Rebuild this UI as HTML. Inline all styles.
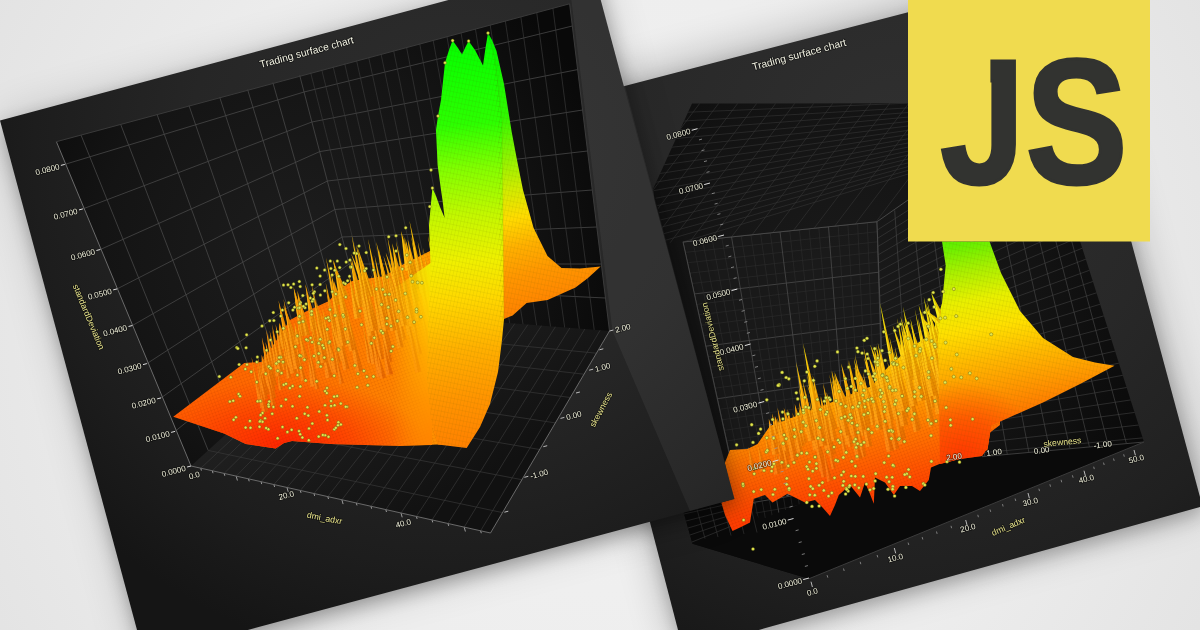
<!DOCTYPE html>
<html><head><meta charset="utf-8"><title>Trading surface chart</title>
<style>html,body{margin:0;padding:0;background:#ebebeb;overflow:hidden}svg{display:block}
.lbl text{paint-order:stroke;stroke:#000;stroke-opacity:.45;stroke-width:1.6px;stroke-linejoin:round}</style></head>
<body><svg width="1200" height="630" viewBox="0 0 1200 630" font-family="'Liberation Sans', sans-serif"><defs>
<pattern id="mesh" width="3.2" height="3.2" patternUnits="userSpaceOnUse" patternTransform="rotate(-20)">
 <path d="M0,0H3.2M0,0V3.2" stroke="#7a1800" stroke-width="0.5" stroke-opacity="0.28" fill="none"/>
</pattern>
<pattern id="mesh2" width="3.4" height="5" patternUnits="userSpaceOnUse" patternTransform="rotate(12)">
 <path d="M0,0H3.4M0,0V5" stroke="#4a4000" stroke-width="0.5" stroke-opacity="0.25" fill="none"/>
</pattern>

<radialGradient id="lwall" gradientUnits="userSpaceOnUse" cx="300" cy="250" r="330">
 <stop offset="0" stop-color="#1d1d1d"/><stop offset="0.6" stop-color="#141414"/><stop offset="1" stop-color="#090909"/>
</radialGradient>
<linearGradient id="lfloor" gradientUnits="userSpaceOnUse" x1="300" y1="330" x2="420" y2="520">
 <stop offset="0" stop-color="#242424"/><stop offset="1" stop-color="#111111"/>
</linearGradient>

<linearGradient id="gL" gradientUnits="userSpaceOnUse" x1="455" y1="33" x2="480" y2="448">
 <stop offset="0" stop-color="#00ff00"/><stop offset="0.22" stop-color="#2cff00"/>
 <stop offset="0.33" stop-color="#84ff00"/><stop offset="0.44" stop-color="#c4f800"/>
 <stop offset="0.55" stop-color="#f0f000"/><stop offset="0.64" stop-color="#ffd800"/>
 <stop offset="0.76" stop-color="#ffb000"/><stop offset="0.88" stop-color="#ff9400"/>
 <stop offset="1" stop-color="#ff8000"/>
</linearGradient>
<linearGradient id="gLr" gradientUnits="userSpaceOnUse" x1="500" y1="33" x2="560" y2="300">
 <stop offset="0" stop-color="#00f800"/><stop offset="0.30" stop-color="#30f800"/>
 <stop offset="0.44" stop-color="#88f400"/><stop offset="0.565" stop-color="#d0ec00"/>
 <stop offset="0.67" stop-color="#ffdc00"/><stop offset="0.775" stop-color="#ffb000"/>
 <stop offset="0.88" stop-color="#ff9600"/><stop offset="1" stop-color="#ff8400"/>
</linearGradient>
<linearGradient id="gLo" gradientUnits="userSpaceOnUse" x1="173" y1="420" x2="445" y2="360">
 <stop offset="0" stop-color="#ff6200"/><stop offset="0.45" stop-color="#ff6c00"/><stop offset="0.8" stop-color="#ff8400"/><stop offset="1" stop-color="#ff9a00"/>
</linearGradient>
<radialGradient id="gLred" gradientUnits="userSpaceOnUse" cx="285" cy="446" r="95" gradientTransform="translate(285 446) scale(1.5 0.7) translate(-285 -446)">
 <stop offset="0" stop-color="#ff2000" stop-opacity="0.95"/><stop offset="0.5" stop-color="#ff2c00" stop-opacity="0.6"/><stop offset="1" stop-color="#ff3000" stop-opacity="0"/>
</radialGradient>
<linearGradient id="mLg" gradientUnits="userSpaceOnUse" x1="392" y1="0" x2="432" y2="0">
 <stop offset="0" stop-color="#000"/><stop offset="1" stop-color="#fff"/>
</linearGradient>
<mask id="mL" maskUnits="userSpaceOnUse" x="380" y="200" width="80" height="260"><rect x="380" y="200" width="80" height="260" fill="url(#mLg)"/></mask>
<linearGradient id="gLh" gradientUnits="userSpaceOnUse" x1="340" y1="200" x2="375" y2="450">
 <stop offset="0" stop-color="#ffe800"/><stop offset="0.15" stop-color="#ffd000"/><stop offset="0.35" stop-color="#ffb000"/>
 <stop offset="0.58" stop-color="#ff9000"/><stop offset="0.8" stop-color="#ff7000"/><stop offset="1" stop-color="#ff5000"/>
</linearGradient>
<linearGradient id="gS1" gradientUnits="objectBoundingBox" x1="0" y1="0" x2="0" y2="1">
 <stop offset="0" stop-color="#ffc820"/><stop offset="0.5" stop-color="#ffa000"/><stop offset="1" stop-color="#ff7800"/>
</linearGradient>
<linearGradient id="gS2" gradientUnits="objectBoundingBox" x1="0" y1="0" x2="0" y2="1">
 <stop offset="0" stop-color="#ffae10"/><stop offset="0.5" stop-color="#ff8600"/><stop offset="1" stop-color="#ff5c00"/>
</linearGradient>

<radialGradient id="rwall" gradientUnits="userSpaceOnUse" cx="840" cy="300" r="330">
 <stop offset="0" stop-color="#1b1b1b"/><stop offset="0.6" stop-color="#131313"/><stop offset="1" stop-color="#0a0a0a"/>
</radialGradient>
<clipPath id="cTop"><polygon points="692.0,103.5 1050.0,103.0 1050.0,150.0 908.0,200.0 877.0,221.7 683.0,242.0 666.0,243.0 653.3,188.4"/></clipPath>
<clipPath id="cBack"><polygon points="683.0,242.0 877.0,221.7 886.0,470.0 760.0,520.0 735.0,480.0"/></clipPath>
<clipPath id="cRW"><polygon points="877.0,221.7 908.0,200.0 1050.0,110.0 1080.0,241.0 1144.0,442.0 982.0,456.7 886.0,470.0"/></clipPath>

<radialGradient id="gRred" gradientUnits="userSpaceOnUse" cx="962" cy="455" r="75">
 <stop offset="0" stop-color="#ff2c00" stop-opacity="0.7"/><stop offset="0.5" stop-color="#ff3400" stop-opacity="0.45"/><stop offset="1" stop-color="#ff4000" stop-opacity="0"/>
</radialGradient>
<linearGradient id="gRh" gradientUnits="userSpaceOnUse" x1="960" y1="242" x2="1009" y2="532">
 <stop offset="0" stop-color="#90f800"/><stop offset="0.1" stop-color="#d0f400"/>
 <stop offset="0.2" stop-color="#f8f000"/><stop offset="0.32" stop-color="#ffd800"/>
 <stop offset="0.45" stop-color="#ffb000"/><stop offset="0.58" stop-color="#ff9000"/>
 <stop offset="0.72" stop-color="#ff6c00"/><stop offset="0.86" stop-color="#ff4c00"/>
 <stop offset="1" stop-color="#ff3400"/>
</linearGradient>
<linearGradient id="gR" gradientUnits="userSpaceOnUse" x1="960" y1="242" x2="1009" y2="532">
 <stop offset="0" stop-color="#60f000"/><stop offset="0.097" stop-color="#a8f000"/>
 <stop offset="0.2" stop-color="#e8f000"/><stop offset="0.30" stop-color="#ffe000"/>
 <stop offset="0.41" stop-color="#ffb800"/><stop offset="0.52" stop-color="#ff9400"/>
 <stop offset="0.61" stop-color="#ff7600"/><stop offset="0.71" stop-color="#ff5a00"/>
 <stop offset="0.81" stop-color="#ff4000"/><stop offset="0.91" stop-color="#ff3000"/>
 <stop offset="1" stop-color="#f62800"/>
</linearGradient>

<radialGradient id="bg" gradientUnits="userSpaceOnUse" cx="600" cy="330" r="720">
 <stop offset="0" stop-color="#f2f2f2"/><stop offset="0.6" stop-color="#ededed"/><stop offset="1" stop-color="#e2e2e2"/>
</radialGradient>
<radialGradient id="lp" gradientUnits="userSpaceOnUse" cx="450" cy="150" r="520">
 <stop offset="0" stop-color="#2e2e2e"/><stop offset="0.5" stop-color="#262626"/><stop offset="0.8" stop-color="#1d1d1d"/><stop offset="1" stop-color="#151515"/>
</radialGradient>
<radialGradient id="rp" gradientUnits="userSpaceOnUse" cx="900" cy="150" r="540">
 <stop offset="0" stop-color="#303030"/><stop offset="0.5" stop-color="#282828"/><stop offset="0.8" stop-color="#202020"/><stop offset="1" stop-color="#181818"/>
</radialGradient>
<filter id="sh" x="-20%" y="-20%" width="140%" height="140%"><feGaussianBlur stdDeviation="9"/></filter>
<filter id="shw" x="-20%" y="-20%" width="140%" height="140%"><feGaussianBlur stdDeviation="22"/></filter>
</defs>
<rect width="1200" height="630" fill="url(#bg)"/>
<polygon points="542.0,103.5 1059.0,-31.0 1202.5,502.3 683.5,647.0" fill="#000" opacity="0.28" filter="url(#shw)"/>
<polygon points="544.0,113.5 1061.0,-21.0 1204.5,512.3 685.5,657.0" fill="#000" opacity="0.22" filter="url(#sh)"/>
<polygon points="542.0,107.5 1059.0,-27.0 1202.5,506.3 683.5,651.0" fill="url(#rp)" />
<g class="lbl">
<polygon points="692.0,103.5 1050.0,103.0 1080.0,241.0 1144.0,442.0 808.8,578.8 692.5,543.8 680.0,500.0 653.3,188.4" fill="url(#rwall)" />
<polygon points="683.8,512.5 760.0,478.0 982.0,456.7 1144.0,442.0 808.8,578.8 692.5,543.8" fill="#0a0a0a" />
<polygon points="683.0,242.0 877.0,221.7 886.0,470.0 760.0,500.0 735.0,480.0" fill="#1a1a1a" opacity="0.8"/>
<g clip-path="url(#cTop)" stroke="#363636" stroke-width="0.6" fill="none">
<line x1="688.0" y1="112.2" x2="1180.0" y2="92.0" />
<line x1="684.0" y1="121.0" x2="1180.0" y2="92.0" />
<line x1="680.0" y1="129.8" x2="1180.0" y2="92.0" />
<line x1="676.0" y1="138.5" x2="1180.0" y2="92.0" />
<line x1="672.0" y1="147.2" x2="1180.0" y2="92.0" />
<line x1="668.0" y1="156.0" x2="1180.0" y2="92.0" />
<line x1="664.0" y1="164.8" x2="1180.0" y2="92.0" />
<line x1="660.0" y1="173.5" x2="1180.0" y2="92.0" />
<line x1="656.0" y1="182.2" x2="1180.0" y2="92.0" />
<line x1="652.0" y1="191.0" x2="1180.0" y2="92.0" />
<line x1="648.0" y1="199.8" x2="1180.0" y2="92.0" />
<line x1="644.0" y1="208.5" x2="1180.0" y2="92.0" />
<line x1="640.0" y1="217.2" x2="1180.0" y2="92.0" />
<line x1="636.0" y1="226.0" x2="1180.0" y2="92.0" />
<line x1="632.0" y1="234.8" x2="1180.0" y2="92.0" />
<line x1="628.0" y1="243.5" x2="1180.0" y2="92.0" />
<line x1="624.0" y1="252.2" x2="1180.0" y2="92.0" />
<line x1="620.0" y1="261.0" x2="1180.0" y2="92.0" />
<line x1="700.0" y1="103.0" x2="570.0" y2="274.6" />
<line x1="719.0" y1="103.0" x2="589.0" y2="274.6" />
<line x1="738.0" y1="103.0" x2="608.0" y2="274.6" />
<line x1="757.0" y1="103.0" x2="627.0" y2="274.6" />
<line x1="776.0" y1="103.0" x2="646.0" y2="274.6" />
<line x1="795.0" y1="103.0" x2="665.0" y2="274.6" />
<line x1="814.0" y1="103.0" x2="684.0" y2="274.6" />
<line x1="833.0" y1="103.0" x2="703.0" y2="274.6" />
<line x1="852.0" y1="103.0" x2="722.0" y2="274.6" />
<line x1="871.0" y1="103.0" x2="741.0" y2="274.6" />
<line x1="890.0" y1="103.0" x2="760.0" y2="274.6" />
<line x1="909.0" y1="103.0" x2="779.0" y2="274.6" />
<line x1="928.0" y1="103.0" x2="798.0" y2="274.6" />
<line x1="947.0" y1="103.0" x2="817.0" y2="274.6" />
<line x1="966.0" y1="103.0" x2="836.0" y2="274.6" />
<line x1="985.0" y1="103.0" x2="855.0" y2="274.6" />
<line x1="1004.0" y1="103.0" x2="874.0" y2="274.6" />
<line x1="1023.0" y1="103.0" x2="893.0" y2="274.6" />
<line x1="1042.0" y1="103.0" x2="912.0" y2="274.6" />
<line x1="1061.0" y1="103.0" x2="931.0" y2="274.6" />
<line x1="1080.0" y1="103.0" x2="950.0" y2="274.6" />
<line x1="1099.0" y1="103.0" x2="969.0" y2="274.6" />
<line x1="1118.0" y1="103.0" x2="988.0" y2="274.6" />
<line x1="1137.0" y1="103.0" x2="1007.0" y2="274.6" />
</g>
<g clip-path="url(#cBack)" fill="none">
<line x1="660.0" y1="244.4" x2="900.0" y2="219.2" stroke="#4a4a4a" stroke-width="0.8" />
<line x1="660.0" y1="255.1" x2="900.0" y2="229.3" stroke="#2e2e2e" stroke-width="0.6" />
<line x1="660.0" y1="265.8" x2="900.0" y2="239.3" stroke="#2e2e2e" stroke-width="0.6" />
<line x1="660.0" y1="276.5" x2="900.0" y2="249.4" stroke="#2e2e2e" stroke-width="0.6" />
<line x1="660.0" y1="287.2" x2="900.0" y2="259.6" stroke="#2e2e2e" stroke-width="0.6" />
<line x1="660.0" y1="298.0" x2="900.0" y2="269.7" stroke="#4a4a4a" stroke-width="0.8" />
<line x1="660.0" y1="308.8" x2="900.0" y2="279.9" stroke="#2e2e2e" stroke-width="0.6" />
<line x1="660.0" y1="319.6" x2="900.0" y2="290.1" stroke="#2e2e2e" stroke-width="0.6" />
<line x1="660.0" y1="330.5" x2="900.0" y2="300.3" stroke="#2e2e2e" stroke-width="0.6" />
<line x1="660.0" y1="341.3" x2="900.0" y2="310.5" stroke="#2e2e2e" stroke-width="0.6" />
<line x1="660.0" y1="352.2" x2="900.0" y2="320.8" stroke="#4a4a4a" stroke-width="0.8" />
<line x1="660.0" y1="363.1" x2="900.0" y2="331.1" stroke="#2e2e2e" stroke-width="0.6" />
<line x1="660.0" y1="374.1" x2="900.0" y2="341.4" stroke="#2e2e2e" stroke-width="0.6" />
<line x1="660.0" y1="385.0" x2="900.0" y2="351.7" stroke="#2e2e2e" stroke-width="0.6" />
<line x1="660.0" y1="396.0" x2="900.0" y2="362.0" stroke="#2e2e2e" stroke-width="0.6" />
<line x1="660.0" y1="407.0" x2="900.0" y2="372.4" stroke="#4a4a4a" stroke-width="0.8" />
<line x1="660.0" y1="418.1" x2="900.0" y2="382.8" stroke="#2e2e2e" stroke-width="0.6" />
<line x1="660.0" y1="429.1" x2="900.0" y2="393.2" stroke="#2e2e2e" stroke-width="0.6" />
<line x1="660.0" y1="440.2" x2="900.0" y2="403.7" stroke="#2e2e2e" stroke-width="0.6" />
<line x1="660.0" y1="451.3" x2="900.0" y2="414.1" stroke="#2e2e2e" stroke-width="0.6" />
<line x1="660.0" y1="462.4" x2="900.0" y2="424.6" stroke="#4a4a4a" stroke-width="0.8" />
<line x1="660.0" y1="473.6" x2="900.0" y2="435.1" stroke="#2e2e2e" stroke-width="0.6" />
<line x1="660.0" y1="484.8" x2="900.0" y2="445.6" stroke="#2e2e2e" stroke-width="0.6" />
<line x1="660.0" y1="496.0" x2="900.0" y2="456.2" stroke="#2e2e2e" stroke-width="0.6" />
<line x1="660.0" y1="507.2" x2="900.0" y2="466.8" stroke="#2e2e2e" stroke-width="0.6" />
<line x1="660.0" y1="518.4" x2="900.0" y2="477.4" stroke="#4a4a4a" stroke-width="0.8" />
<line x1="660.0" y1="529.7" x2="900.0" y2="488.0" stroke="#2e2e2e" stroke-width="0.6" />
<line x1="660.0" y1="541.0" x2="900.0" y2="498.6" stroke="#2e2e2e" stroke-width="0.6" />
<line x1="660.0" y1="552.3" x2="900.0" y2="509.3" stroke="#2e2e2e" stroke-width="0.6" />
<line x1="660.0" y1="563.7" x2="900.0" y2="520.0" stroke="#2e2e2e" stroke-width="0.6" />
<line x1="683.0" y1="242.0" x2="750.5" y2="549.2" stroke="#4a4a4a" stroke-width="0.8" />
<line x1="692.7" y1="241.0" x2="757.3" y2="548.5" stroke="#2e2e2e" stroke-width="0.6" />
<line x1="702.4" y1="240.0" x2="764.1" y2="547.8" stroke="#2e2e2e" stroke-width="0.6" />
<line x1="712.1" y1="239.0" x2="770.9" y2="547.1" stroke="#2e2e2e" stroke-width="0.6" />
<line x1="721.8" y1="237.9" x2="777.7" y2="546.4" stroke="#2e2e2e" stroke-width="0.6" />
<line x1="731.5" y1="236.9" x2="784.5" y2="545.6" stroke="#4a4a4a" stroke-width="0.8" />
<line x1="741.2" y1="235.9" x2="791.2" y2="544.9" stroke="#2e2e2e" stroke-width="0.6" />
<line x1="750.9" y1="234.9" x2="798.0" y2="544.2" stroke="#2e2e2e" stroke-width="0.6" />
<line x1="760.6" y1="233.9" x2="804.8" y2="543.5" stroke="#2e2e2e" stroke-width="0.6" />
<line x1="770.3" y1="232.9" x2="811.6" y2="542.8" stroke="#2e2e2e" stroke-width="0.6" />
<line x1="780.0" y1="231.8" x2="818.4" y2="542.1" stroke="#4a4a4a" stroke-width="0.8" />
<line x1="789.7" y1="230.8" x2="825.2" y2="541.4" stroke="#2e2e2e" stroke-width="0.6" />
<line x1="799.4" y1="229.8" x2="832.0" y2="540.7" stroke="#2e2e2e" stroke-width="0.6" />
<line x1="809.1" y1="228.8" x2="838.8" y2="540.0" stroke="#2e2e2e" stroke-width="0.6" />
<line x1="818.8" y1="227.8" x2="845.6" y2="539.3" stroke="#2e2e2e" stroke-width="0.6" />
<line x1="828.5" y1="226.8" x2="852.4" y2="538.5" stroke="#4a4a4a" stroke-width="0.8" />
<line x1="838.2" y1="225.8" x2="859.1" y2="537.8" stroke="#2e2e2e" stroke-width="0.6" />
<line x1="847.9" y1="224.7" x2="865.9" y2="537.1" stroke="#2e2e2e" stroke-width="0.6" />
<line x1="857.6" y1="223.7" x2="872.7" y2="536.4" stroke="#2e2e2e" stroke-width="0.6" />
<line x1="867.3" y1="222.7" x2="879.5" y2="535.7" stroke="#2e2e2e" stroke-width="0.6" />
<line x1="877.0" y1="221.7" x2="886.3" y2="535.0" stroke="#4a4a4a" stroke-width="0.8" />
</g>
<g clip-path="url(#cRW)" stroke="#3a3a3a" stroke-width="0.7" fill="none">
<line x1="877.3" y1="230.0" x2="1177.3" y2="38.1" />
<line x1="877.6" y1="238.3" x2="1177.6" y2="52.3" />
<line x1="877.9" y1="246.5" x2="1177.9" y2="66.6" />
<line x1="878.2" y1="254.8" x2="1178.2" y2="80.8" />
<line x1="878.5" y1="263.1" x2="1178.5" y2="95.0" />
<line x1="878.8" y1="271.4" x2="1178.8" y2="109.2" />
<line x1="879.1" y1="279.6" x2="1179.1" y2="123.4" />
<line x1="879.4" y1="287.9" x2="1179.4" y2="137.6" />
<line x1="879.7" y1="296.2" x2="1179.7" y2="151.8" />
<line x1="880.0" y1="304.5" x2="1180.0" y2="166.0" />
<line x1="880.3" y1="312.7" x2="1180.3" y2="180.2" />
<line x1="880.6" y1="321.0" x2="1180.6" y2="194.3" />
<line x1="880.9" y1="329.3" x2="1180.9" y2="208.5" />
<line x1="881.2" y1="337.6" x2="1181.2" y2="222.6" />
<line x1="881.5" y1="345.9" x2="1181.5" y2="236.8" />
<line x1="881.8" y1="354.1" x2="1181.8" y2="250.9" />
<line x1="882.1" y1="362.4" x2="1182.1" y2="265.0" />
<line x1="882.4" y1="370.7" x2="1182.4" y2="279.1" />
<line x1="882.7" y1="379.0" x2="1182.7" y2="293.3" />
<line x1="883.0" y1="387.2" x2="1183.0" y2="307.3" />
<line x1="883.3" y1="395.5" x2="1183.3" y2="321.4" />
<line x1="883.6" y1="403.8" x2="1183.6" y2="335.5" />
<line x1="883.9" y1="412.1" x2="1183.9" y2="349.6" />
<line x1="884.2" y1="420.3" x2="1184.2" y2="363.7" />
<line x1="884.5" y1="428.6" x2="1184.5" y2="377.7" />
<line x1="884.8" y1="436.9" x2="1184.8" y2="391.8" />
<line x1="885.1" y1="445.2" x2="1185.1" y2="405.8" />
<line x1="885.4" y1="453.4" x2="1185.4" y2="419.8" />
<line x1="885.7" y1="461.7" x2="1185.7" y2="433.9" />
<line x1="894.7" y1="210.3" x2="912.3" y2="467.1" stroke="#444" />
<line x1="911.6" y1="199.4" x2="937.6" y2="464.4" stroke="#444" />
<line x1="927.9" y1="188.8" x2="961.9" y2="461.8" stroke="#444" />
<line x1="943.5" y1="178.7" x2="985.2" y2="459.2" stroke="#444" />
<line x1="958.6" y1="169.0" x2="1007.7" y2="456.8" stroke="#444" />
<line x1="973.1" y1="159.6" x2="1029.3" y2="454.4" stroke="#444" />
<line x1="987.1" y1="150.6" x2="1050.2" y2="452.2" stroke="#444" />
<line x1="1000.6" y1="141.9" x2="1070.3" y2="450.0" stroke="#444" />
<line x1="1013.6" y1="133.5" x2="1089.7" y2="447.9" stroke="#444" />
<line x1="1026.1" y1="125.4" x2="1108.4" y2="445.9" stroke="#444" />
<line x1="1038.3" y1="117.6" x2="1126.5" y2="443.9" stroke="#444" />
</g>
<g stroke="#4c4c4c" stroke-width="0.9" fill="none">
<polyline points="683.0,242.0 877.0,221.7 908.0,200.0" />
<line x1="877.0" y1="221.7" x2="886.0" y2="470.0" />
<line x1="683.0" y1="242.0" x2="735.0" y2="480.0" />
</g>
<g stroke="#333" stroke-width="0.7" fill="none">
<line x1="684.0" y1="514.0" x2="760.0" y2="497.0" />
<line x1="686.0" y1="521.0" x2="756.0" y2="503.0" />
<line x1="688.0" y1="528.0" x2="752.0" y2="509.0" />
<line x1="690.0" y1="535.0" x2="748.0" y2="515.0" />
<line x1="692.0" y1="542.0" x2="744.0" y2="521.0" />
<line x1="697.0" y1="509.4" x2="705.0" y2="538.5" />
<line x1="710.0" y1="506.8" x2="718.0" y2="537.0" />
<line x1="723.0" y1="504.2" x2="731.0" y2="535.5" />
<line x1="736.0" y1="501.6" x2="744.0" y2="534.0" />
<line x1="749.0" y1="499.0" x2="757.0" y2="532.5" />
</g>
<g stroke="#3c3c3c" stroke-width="1" fill="none">
<line x1="808.8" y1="578.8" x2="1144.0" y2="442.0" />
<line x1="982.0" y1="456.7" x2="1144.0" y2="442.0" />
</g>
<polygon points="724.8,462.9 730.0,450.0 747.5,449.0 757.5,444.0 770.0,426.0 815.0,409.0 842.0,398.0 872.0,386.0 888.0,367.0 910.0,348.0 933.0,333.0 942.0,303.6 1000.0,303.0 1000.0,425.0 990.0,432.5 987.5,450.0 975.0,456.0 960.0,458.8 940.0,463.8 931.0,467.5 928.8,480.0 920.0,491.0 912.0,486.0 900.0,486.0 893.8,495.0 885.0,482.5 875.0,477.5 873.8,503.8 870.0,494.0 865.0,482.5 860.0,497.5 850.0,485.0 838.8,495.0 835.0,505.0 830.0,516.0 823.0,508.0 815.0,500.0 805.0,502.5 787.5,493.8 772.5,502.5 765.0,495.0 753.8,498.8 750.0,522.5 741.0,527.0 732.5,531.0 725.0,515.0 721.3,502.5 733.0,499.0" fill="url(#gR)" />
<polygon points="931.2,292.7 945.2,318.8 937.9,320.3" fill="url(#gRh)" />
<polygon points="931.2,292.7 941.6,319.5 937.9,320.3" fill="#fff" opacity="0.07"/>
<polygon points="931.2,292.7 945.2,318.8 941.6,319.5" fill="#902000" opacity="0.22"/>
<polygon points="924.4,309.2 943.2,322.3 935.6,323.8" fill="url(#gRh)" />
<polygon points="924.4,309.2 939.4,323.0 935.6,323.8" fill="#fff" opacity="0.07"/>
<polygon points="924.4,309.2 943.2,322.3 939.4,323.0" fill="#902000" opacity="0.22"/>
<polygon points="920.3,316.4 939.5,333.0 932.7,334.5" fill="url(#gRh)" />
<polygon points="920.3,316.4 936.1,333.7 932.7,334.5" fill="#fff" opacity="0.07"/>
<polygon points="920.3,316.4 939.5,333.0 936.1,333.7" fill="#902000" opacity="0.22"/>
<polygon points="918.6,305.1 933.8,346.4 926.9,347.9" fill="url(#gRh)" />
<polygon points="918.6,305.1 930.3,347.1 926.9,347.9" fill="#fff" opacity="0.07"/>
<polygon points="918.6,305.1 933.8,346.4 930.3,347.1" fill="#902000" opacity="0.22"/>
<polygon points="933.8,314.1 943.6,352.1 939.3,353.6" fill="url(#gRh)" />
<polygon points="933.8,314.1 941.4,352.8 939.3,353.6" fill="#fff" opacity="0.07"/>
<polygon points="933.8,314.1 943.6,352.1 941.4,352.8" fill="#902000" opacity="0.22"/>
<polygon points="926.1,303.6 943.9,352.3 937.6,353.8" fill="url(#gRh)" />
<polygon points="926.1,303.6 940.8,353.0 937.6,353.8" fill="#fff" opacity="0.07"/>
<polygon points="926.1,303.6 943.9,352.3 940.8,353.0" fill="#902000" opacity="0.22"/>
<polygon points="903.3,320.5 920.4,359.9 913.7,361.4" fill="url(#gRh)" />
<polygon points="903.3,320.5 917.1,360.6 913.7,361.4" fill="#fff" opacity="0.07"/>
<polygon points="903.3,320.5 920.4,359.9 917.1,360.6" fill="#902000" opacity="0.22"/>
<polygon points="909.3,330.3 918.8,359.9 911.7,361.4" fill="url(#gRh)" />
<polygon points="909.3,330.3 915.3,360.6 911.7,361.4" fill="#fff" opacity="0.07"/>
<polygon points="909.3,330.3 918.8,359.9 915.3,360.6" fill="#902000" opacity="0.22"/>
<polygon points="909.9,322.2 926.0,365.7 921.7,367.2" fill="url(#gRh)" />
<polygon points="909.9,322.2 923.8,366.4 921.7,367.2" fill="#fff" opacity="0.07"/>
<polygon points="909.9,322.2 926.0,365.7 923.8,366.4" fill="#902000" opacity="0.22"/>
<polygon points="922.0,311.4 939.1,367.1 933.5,368.6" fill="url(#gRh)" />
<polygon points="922.0,311.4 936.3,367.8 933.5,368.6" fill="#fff" opacity="0.07"/>
<polygon points="922.0,311.4 939.1,367.1 936.3,367.8" fill="#902000" opacity="0.22"/>
<polygon points="910.4,318.3 923.2,369.0 917.9,370.5" fill="url(#gRh)" />
<polygon points="910.4,318.3 920.5,369.7 917.9,370.5" fill="#fff" opacity="0.07"/>
<polygon points="910.4,318.3 923.2,369.0 920.5,369.7" fill="#902000" opacity="0.22"/>
<polygon points="906.5,331.8 916.1,369.5 911.9,371.0" fill="url(#gRh)" />
<polygon points="906.5,331.8 914.0,370.2 911.9,371.0" fill="#fff" opacity="0.07"/>
<polygon points="906.5,331.8 916.1,369.5 914.0,370.2" fill="#902000" opacity="0.22"/>
<polygon points="892.7,325.4 911.2,370.3 904.5,371.8" fill="url(#gRh)" />
<polygon points="892.7,325.4 907.8,371.0 904.5,371.8" fill="#fff" opacity="0.07"/>
<polygon points="892.7,325.4 911.2,370.3 907.8,371.0" fill="#902000" opacity="0.22"/>
<polygon points="901.6,330.8 918.4,371.4 913.9,372.9" fill="url(#gRh)" />
<polygon points="901.6,330.8 916.2,372.1 913.9,372.9" fill="#fff" opacity="0.07"/>
<polygon points="901.6,330.8 918.4,371.4 916.2,372.1" fill="#902000" opacity="0.22"/>
<polygon points="902.6,326.3 921.5,373.6 917.4,375.1" fill="url(#gRh)" />
<polygon points="902.6,326.3 919.5,374.3 917.4,375.1" fill="#fff" opacity="0.07"/>
<polygon points="902.6,326.3 921.5,373.6 919.5,374.3" fill="#902000" opacity="0.22"/>
<polygon points="927.0,300.3 945.5,374.2 941.2,375.7" fill="url(#gRh)" />
<polygon points="927.0,300.3 943.3,374.9 941.2,375.7" fill="#fff" opacity="0.07"/>
<polygon points="927.0,300.3 945.5,374.2 943.3,374.9" fill="#902000" opacity="0.22"/>
<polygon points="900.3,316.1 919.8,374.9 913.6,376.4" fill="url(#gRh)" />
<polygon points="900.3,316.1 916.7,375.6 913.6,376.4" fill="#fff" opacity="0.07"/>
<polygon points="900.3,316.1 919.8,374.9 916.7,375.6" fill="#902000" opacity="0.22"/>
<polygon points="905.2,315.5 921.0,376.3 913.7,377.8" fill="url(#gRh)" />
<polygon points="905.2,315.5 917.4,377.0 913.7,377.8" fill="#fff" opacity="0.07"/>
<polygon points="905.2,315.5 921.0,376.3 917.4,377.0" fill="#902000" opacity="0.22"/>
<polygon points="902.7,327.4 916.5,377.1 908.9,378.6" fill="url(#gRh)" />
<polygon points="902.7,327.4 912.7,377.8 908.9,378.6" fill="#fff" opacity="0.07"/>
<polygon points="902.7,327.4 916.5,377.1 912.7,377.8" fill="#902000" opacity="0.22"/>
<polygon points="900.2,338.8 911.7,377.4 904.1,378.9" fill="url(#gRh)" />
<polygon points="900.2,338.8 907.9,378.1 904.1,378.9" fill="#fff" opacity="0.07"/>
<polygon points="900.2,338.8 911.7,377.4 907.9,378.1" fill="#902000" opacity="0.22"/>
<polygon points="900.4,322.3 913.9,377.8 909.2,379.3" fill="url(#gRh)" />
<polygon points="900.4,322.3 911.5,378.5 909.2,379.3" fill="#fff" opacity="0.07"/>
<polygon points="900.4,322.3 913.9,377.8 911.5,378.5" fill="#902000" opacity="0.22"/>
<polygon points="902.5,333.5 914.0,379.5 909.4,381.0" fill="url(#gRh)" />
<polygon points="902.5,333.5 911.7,380.2 909.4,381.0" fill="#fff" opacity="0.07"/>
<polygon points="902.5,333.5 914.0,379.5 911.7,380.2" fill="#902000" opacity="0.22"/>
<polygon points="923.8,297.0 945.2,384.3 937.3,385.8" fill="url(#gRh)" />
<polygon points="923.8,297.0 941.2,385.0 937.3,385.8" fill="#fff" opacity="0.07"/>
<polygon points="923.8,297.0 945.2,384.3 941.2,385.0" fill="#902000" opacity="0.22"/>
<polygon points="924.7,321.8 940.8,386.2 934.4,387.7" fill="url(#gRh)" />
<polygon points="924.7,321.8 937.6,386.9 934.4,387.7" fill="#fff" opacity="0.07"/>
<polygon points="924.7,321.8 940.8,386.2 937.6,386.9" fill="#902000" opacity="0.22"/>
<polygon points="870.3,344.7 889.6,387.7 882.3,389.2" fill="url(#gRh)" />
<polygon points="870.3,344.7 886.0,388.4 882.3,389.2" fill="#fff" opacity="0.07"/>
<polygon points="870.3,344.7 889.6,387.7 886.0,388.4" fill="#902000" opacity="0.22"/>
<polygon points="879.9,366.5 888.8,392.0 881.2,393.5" fill="url(#gRh)" />
<polygon points="879.9,366.5 885.0,392.7 881.2,393.5" fill="#fff" opacity="0.07"/>
<polygon points="879.9,366.5 888.8,392.0 885.0,392.7" fill="#902000" opacity="0.22"/>
<polygon points="867.7,353.5 884.4,392.2 878.1,393.7" fill="url(#gRh)" />
<polygon points="867.7,353.5 881.3,392.9 878.1,393.7" fill="#fff" opacity="0.07"/>
<polygon points="867.7,353.5 884.4,392.2 881.3,392.9" fill="#902000" opacity="0.22"/>
<polygon points="911.3,353.5 922.8,392.2 915.2,393.7" fill="url(#gRh)" />
<polygon points="911.3,353.5 919.0,392.9 915.2,393.7" fill="#fff" opacity="0.07"/>
<polygon points="911.3,353.5 922.8,392.2 919.0,392.9" fill="#902000" opacity="0.22"/>
<polygon points="914.8,308.9 933.9,392.5 929.2,394.0" fill="url(#gRh)" />
<polygon points="914.8,308.9 931.5,393.2 929.2,394.0" fill="#fff" opacity="0.07"/>
<polygon points="914.8,308.9 933.9,392.5 931.5,393.2" fill="#902000" opacity="0.22"/>
<polygon points="864.0,357.5 880.2,396.8 873.3,398.3" fill="url(#gRh)" />
<polygon points="864.0,357.5 876.8,397.5 873.3,398.3" fill="#fff" opacity="0.07"/>
<polygon points="864.0,357.5 880.2,396.8 876.8,397.5" fill="#902000" opacity="0.22"/>
<polygon points="873.9,358.5 884.7,398.2 879.0,399.7" fill="url(#gRh)" />
<polygon points="873.9,358.5 881.8,398.9 879.0,399.7" fill="#fff" opacity="0.07"/>
<polygon points="873.9,358.5 884.7,398.2 881.8,398.9" fill="#902000" opacity="0.22"/>
<polygon points="879.9,372.1 888.5,400.3 882.6,401.8" fill="url(#gRh)" />
<polygon points="879.9,372.1 885.6,401.0 882.6,401.8" fill="#fff" opacity="0.07"/>
<polygon points="879.9,372.1 888.5,400.3 885.6,401.0" fill="#902000" opacity="0.22"/>
<polygon points="876.1,344.9 890.8,400.7 883.8,402.2" fill="url(#gRh)" />
<polygon points="876.1,344.9 887.3,401.4 883.8,402.2" fill="#fff" opacity="0.07"/>
<polygon points="876.1,344.9 890.8,400.7 887.3,401.4" fill="#902000" opacity="0.22"/>
<polygon points="855.3,363.6 874.2,402.0 867.1,403.5" fill="url(#gRh)" />
<polygon points="855.3,363.6 870.7,402.7 867.1,403.5" fill="#fff" opacity="0.07"/>
<polygon points="855.3,363.6 874.2,402.0 870.7,402.7" fill="#902000" opacity="0.22"/>
<polygon points="936.6,371.1 945.6,403.4 940.6,404.9" fill="url(#gRh)" />
<polygon points="936.6,371.1 943.1,404.1 940.6,404.9" fill="#fff" opacity="0.07"/>
<polygon points="936.6,371.1 945.6,403.4 943.1,404.1" fill="#902000" opacity="0.22"/>
<polygon points="929.9,331.5 946.7,403.9 942.1,405.4" fill="url(#gRh)" />
<polygon points="929.9,331.5 944.4,404.6 942.1,405.4" fill="#fff" opacity="0.07"/>
<polygon points="929.9,331.5 946.7,403.9 944.4,404.6" fill="#902000" opacity="0.22"/>
<polygon points="873.7,345.9 890.4,404.2 882.9,405.7" fill="url(#gRh)" />
<polygon points="873.7,345.9 886.6,404.9 882.9,405.7" fill="#fff" opacity="0.07"/>
<polygon points="873.7,345.9 890.4,404.2 886.6,404.9" fill="#902000" opacity="0.22"/>
<polygon points="931.9,368.3 943.0,405.3 935.7,406.8" fill="url(#gRh)" />
<polygon points="931.9,368.3 939.3,406.0 935.7,406.8" fill="#fff" opacity="0.07"/>
<polygon points="931.9,368.3 943.0,405.3 939.3,406.0" fill="#902000" opacity="0.22"/>
<polygon points="877.8,342.7 894.1,405.8 886.8,407.3" fill="url(#gRh)" />
<polygon points="877.8,342.7 890.4,406.5 886.8,407.3" fill="#fff" opacity="0.07"/>
<polygon points="877.8,342.7 894.1,405.8 890.4,406.5" fill="#902000" opacity="0.22"/>
<polygon points="934.3,369.2 943.8,406.6 939.7,408.1" fill="url(#gRh)" />
<polygon points="934.3,369.2 941.8,407.3 939.7,408.1" fill="#fff" opacity="0.07"/>
<polygon points="934.3,369.2 943.8,406.6 941.8,407.3" fill="#902000" opacity="0.22"/>
<polygon points="848.1,360.1 859.7,406.9 855.2,408.4" fill="url(#gRh)" />
<polygon points="848.1,360.1 857.4,407.6 855.2,408.4" fill="#fff" opacity="0.07"/>
<polygon points="848.1,360.1 859.7,406.9 857.4,407.6" fill="#902000" opacity="0.22"/>
<polygon points="894.1,351.3 909.0,407.8 901.7,409.3" fill="url(#gRh)" />
<polygon points="894.1,351.3 905.4,408.5 901.7,409.3" fill="#fff" opacity="0.07"/>
<polygon points="894.1,351.3 909.0,407.8 905.4,408.5" fill="#902000" opacity="0.22"/>
<polygon points="919.5,341.3 936.5,407.9 929.1,409.4" fill="url(#gRh)" />
<polygon points="919.5,341.3 932.8,408.6 929.1,409.4" fill="#fff" opacity="0.07"/>
<polygon points="919.5,341.3 936.5,407.9 932.8,408.6" fill="#902000" opacity="0.22"/>
<polygon points="894.8,346.4 910.6,409.5 904.2,411.0" fill="url(#gRh)" />
<polygon points="894.8,346.4 907.4,410.2 904.2,411.0" fill="#fff" opacity="0.07"/>
<polygon points="894.8,346.4 910.6,409.5 907.4,410.2" fill="#902000" opacity="0.22"/>
<polygon points="891.6,352.4 906.7,410.0 899.5,411.5" fill="url(#gRh)" />
<polygon points="891.6,352.4 903.1,410.7 899.5,411.5" fill="#fff" opacity="0.07"/>
<polygon points="891.6,352.4 906.7,410.0 903.1,410.7" fill="#902000" opacity="0.22"/>
<polygon points="854.4,366.0 865.4,410.3 861.1,411.8" fill="url(#gRh)" />
<polygon points="854.4,366.0 863.2,411.0 861.1,411.8" fill="#fff" opacity="0.07"/>
<polygon points="854.4,366.0 865.4,410.3 863.2,411.0" fill="#902000" opacity="0.22"/>
<polygon points="841.1,363.2 855.5,410.3 849.0,411.8" fill="url(#gRh)" />
<polygon points="841.1,363.2 852.2,411.0 849.0,411.8" fill="#fff" opacity="0.07"/>
<polygon points="841.1,363.2 855.5,410.3 852.2,411.0" fill="#902000" opacity="0.22"/>
<polygon points="853.9,358.1 867.4,410.8 861.5,412.3" fill="url(#gRh)" />
<polygon points="853.9,358.1 864.4,411.5 861.5,412.3" fill="#fff" opacity="0.07"/>
<polygon points="853.9,358.1 867.4,410.8 864.4,411.5" fill="#902000" opacity="0.22"/>
<polygon points="879.9,347.9 895.6,411.0 889.5,412.5" fill="url(#gRh)" />
<polygon points="879.9,347.9 892.5,411.7 889.5,412.5" fill="#fff" opacity="0.07"/>
<polygon points="879.9,347.9 895.6,411.0 892.5,411.7" fill="#902000" opacity="0.22"/>
<polygon points="861.0,386.5 869.1,411.1 862.7,412.6" fill="url(#gRh)" />
<polygon points="861.0,386.5 865.9,411.8 862.7,412.6" fill="#fff" opacity="0.07"/>
<polygon points="861.0,386.5 869.1,411.1 865.9,411.8" fill="#902000" opacity="0.22"/>
<polygon points="860.1,383.5 869.3,411.7 862.2,413.2" fill="url(#gRh)" />
<polygon points="860.1,383.5 865.7,412.4 862.2,413.2" fill="#fff" opacity="0.07"/>
<polygon points="860.1,383.5 869.3,411.7 865.7,412.4" fill="#902000" opacity="0.22"/>
<polygon points="926.5,347.7 943.4,413.1 935.7,414.6" fill="url(#gRh)" />
<polygon points="926.5,347.7 939.5,413.8 935.7,414.6" fill="#fff" opacity="0.07"/>
<polygon points="926.5,347.7 943.4,413.1 939.5,413.8" fill="#902000" opacity="0.22"/>
<polygon points="836.8,379.0 853.4,413.5 848.5,415.0" fill="url(#gRh)" />
<polygon points="836.8,379.0 850.9,414.2 848.5,415.0" fill="#fff" opacity="0.07"/>
<polygon points="836.8,379.0 853.4,413.5 850.9,414.2" fill="#902000" opacity="0.22"/>
<polygon points="834.4,371.8 851.2,413.6 843.4,415.1" fill="url(#gRh)" />
<polygon points="834.4,371.8 847.3,414.3 843.4,415.1" fill="#fff" opacity="0.07"/>
<polygon points="834.4,371.8 851.2,413.6 847.3,414.3" fill="#902000" opacity="0.22"/>
<polygon points="890.5,358.9 903.9,413.9 899.1,415.4" fill="url(#gRh)" />
<polygon points="890.5,358.9 901.5,414.6 899.1,415.4" fill="#fff" opacity="0.07"/>
<polygon points="890.5,358.9 903.9,413.9 901.5,414.6" fill="#902000" opacity="0.22"/>
<polygon points="863.7,347.7 879.2,414.5 874.8,416.0" fill="url(#gRh)" />
<polygon points="863.7,347.7 877.0,415.2 874.8,416.0" fill="#fff" opacity="0.07"/>
<polygon points="863.7,347.7 879.2,414.5 877.0,415.2" fill="#902000" opacity="0.22"/>
<polygon points="867.2,386.6 875.5,416.9 871.1,418.4" fill="url(#gRh)" />
<polygon points="867.2,386.6 873.3,417.6 871.1,418.4" fill="#fff" opacity="0.07"/>
<polygon points="867.2,386.6 875.5,416.9 873.3,417.6" fill="#902000" opacity="0.22"/>
<polygon points="894.3,357.5 908.9,417.4 903.7,418.9" fill="url(#gRh)" />
<polygon points="894.3,357.5 906.3,418.1 903.7,418.9" fill="#fff" opacity="0.07"/>
<polygon points="894.3,357.5 908.9,417.4 906.3,418.1" fill="#902000" opacity="0.22"/>
<polygon points="885.9,368.5 899.1,418.1 892.5,419.6" fill="url(#gRh)" />
<polygon points="885.9,368.5 895.8,418.8 892.5,419.6" fill="#fff" opacity="0.07"/>
<polygon points="885.9,368.5 899.1,418.1 895.8,418.8" fill="#902000" opacity="0.22"/>
<polygon points="812.6,375.0 824.1,419.4 818.7,420.9" fill="url(#gRh)" />
<polygon points="812.6,375.0 821.4,420.1 818.7,420.9" fill="#fff" opacity="0.07"/>
<polygon points="812.6,375.0 824.1,419.4 821.4,420.1" fill="#902000" opacity="0.22"/>
<polygon points="807.1,384.4 822.5,419.7 817.8,421.2" fill="url(#gRh)" />
<polygon points="807.1,384.4 820.2,420.4 817.8,421.2" fill="#fff" opacity="0.07"/>
<polygon points="807.1,384.4 822.5,419.7 820.2,420.4" fill="#902000" opacity="0.22"/>
<polygon points="864.1,349.0 881.2,419.8 875.4,421.3" fill="url(#gRh)" />
<polygon points="864.1,349.0 878.3,420.5 875.4,421.3" fill="#fff" opacity="0.07"/>
<polygon points="864.1,349.0 881.2,419.8 878.3,420.5" fill="#902000" opacity="0.22"/>
<polygon points="834.2,382.7 845.1,420.4 838.4,421.9" fill="url(#gRh)" />
<polygon points="834.2,382.7 841.8,421.1 838.4,421.9" fill="#fff" opacity="0.07"/>
<polygon points="834.2,382.7 845.1,420.4 841.8,421.1" fill="#902000" opacity="0.22"/>
<polygon points="824.1,400.9 831.0,422.2 825.7,423.7" fill="url(#gRh)" />
<polygon points="824.1,400.9 828.3,422.9 825.7,423.7" fill="#fff" opacity="0.07"/>
<polygon points="824.1,400.9 831.0,422.2 828.3,422.9" fill="#902000" opacity="0.22"/>
<polygon points="916.5,341.9 934.8,422.4 930.5,423.9" fill="url(#gRh)" />
<polygon points="916.5,341.9 932.6,423.1 930.5,423.9" fill="#fff" opacity="0.07"/>
<polygon points="916.5,341.9 934.8,422.4 932.6,423.1" fill="#902000" opacity="0.22"/>
<polygon points="851.8,389.5 861.5,422.6 855.5,424.1" fill="url(#gRh)" />
<polygon points="851.8,389.5 858.5,423.3 855.5,424.1" fill="#fff" opacity="0.07"/>
<polygon points="851.8,389.5 861.5,422.6 858.5,423.3" fill="#902000" opacity="0.22"/>
<polygon points="806.9,372.9 819.3,422.9 814.4,424.4" fill="url(#gRh)" />
<polygon points="806.9,372.9 816.9,423.6 814.4,424.4" fill="#fff" opacity="0.07"/>
<polygon points="806.9,372.9 819.3,422.9 816.9,423.6" fill="#902000" opacity="0.22"/>
<polygon points="833.5,377.4 850.9,423.2 843.4,424.7" fill="url(#gRh)" />
<polygon points="833.5,377.4 847.2,423.9 843.4,424.7" fill="#fff" opacity="0.07"/>
<polygon points="833.5,377.4 850.9,423.2 847.2,423.9" fill="#902000" opacity="0.22"/>
<polygon points="887.3,360.6 902.4,423.4 897.3,424.9" fill="url(#gRh)" />
<polygon points="887.3,360.6 899.8,424.1 897.3,424.9" fill="#fff" opacity="0.07"/>
<polygon points="887.3,360.6 902.4,423.4 899.8,424.1" fill="#902000" opacity="0.22"/>
<polygon points="854.9,354.5 871.3,423.9 866.2,425.4" fill="url(#gRh)" />
<polygon points="854.9,354.5 868.8,424.6 866.2,425.4" fill="#fff" opacity="0.07"/>
<polygon points="854.9,354.5 871.3,423.9 868.8,424.6" fill="#902000" opacity="0.22"/>
<polygon points="863.0,372.1 875.6,424.1 871.1,425.6" fill="url(#gRh)" />
<polygon points="863.0,372.1 873.4,424.8 871.1,425.6" fill="#fff" opacity="0.07"/>
<polygon points="863.0,372.1 875.6,424.1 873.4,424.8" fill="#902000" opacity="0.22"/>
<polygon points="832.0,379.0 844.5,425.3 838.0,426.8" fill="url(#gRh)" />
<polygon points="832.0,379.0 841.2,426.0 838.0,426.8" fill="#fff" opacity="0.07"/>
<polygon points="832.0,379.0 844.5,425.3 841.2,426.0" fill="#902000" opacity="0.22"/>
<polygon points="829.3,374.3 841.6,425.4 837.5,426.9" fill="url(#gRh)" />
<polygon points="829.3,374.3 839.5,426.1 837.5,426.9" fill="#fff" opacity="0.07"/>
<polygon points="829.3,374.3 841.6,425.4 839.5,426.1" fill="#902000" opacity="0.22"/>
<polygon points="918.3,359.6 934.4,425.7 928.7,427.2" fill="url(#gRh)" />
<polygon points="918.3,359.6 931.6,426.4 928.7,427.2" fill="#fff" opacity="0.07"/>
<polygon points="918.3,359.6 934.4,425.7 931.6,426.4" fill="#902000" opacity="0.22"/>
<polygon points="807.3,401.9 815.8,425.8 808.4,427.3" fill="url(#gRh)" />
<polygon points="807.3,401.9 812.1,426.5 808.4,427.3" fill="#fff" opacity="0.07"/>
<polygon points="807.3,401.9 815.8,425.8 812.1,426.5" fill="#902000" opacity="0.22"/>
<polygon points="799.0,401.8 806.2,425.9 801.4,427.4" fill="url(#gRh)" />
<polygon points="799.0,401.8 803.8,426.6 801.4,427.4" fill="#fff" opacity="0.07"/>
<polygon points="799.0,401.8 806.2,425.9 803.8,426.6" fill="#902000" opacity="0.22"/>
<polygon points="798.7,407.3 804.9,427.7 800.7,429.2" fill="url(#gRh)" />
<polygon points="798.7,407.3 802.8,428.4 800.7,429.2" fill="#fff" opacity="0.07"/>
<polygon points="798.7,407.3 804.9,427.7 802.8,428.4" fill="#902000" opacity="0.22"/>
<polygon points="859.2,389.5 870.7,428.3 863.1,429.8" fill="url(#gRh)" />
<polygon points="859.2,389.5 866.9,429.0 863.1,429.8" fill="#fff" opacity="0.07"/>
<polygon points="859.2,389.5 870.7,428.3 866.9,429.0" fill="#902000" opacity="0.22"/>
<polygon points="826.5,392.0 837.4,428.5 830.2,430.0" fill="url(#gRh)" />
<polygon points="826.5,392.0 833.8,429.2 830.2,430.0" fill="#fff" opacity="0.07"/>
<polygon points="826.5,392.0 837.4,428.5 833.8,429.2" fill="#902000" opacity="0.22"/>
<polygon points="906.6,371.7 921.3,429.0 914.8,430.5" fill="url(#gRh)" />
<polygon points="906.6,371.7 918.1,429.7 914.8,430.5" fill="#fff" opacity="0.07"/>
<polygon points="906.6,371.7 921.3,429.0 918.1,429.7" fill="#902000" opacity="0.22"/>
<polygon points="852.1,379.6 865.7,429.2 858.4,430.7" fill="url(#gRh)" />
<polygon points="852.1,379.6 862.1,429.9 858.4,430.7" fill="#fff" opacity="0.07"/>
<polygon points="852.1,379.6 865.7,429.2 862.1,429.9" fill="#902000" opacity="0.22"/>
<polygon points="872.1,391.9 883.5,429.3 875.8,430.8" fill="url(#gRh)" />
<polygon points="872.1,391.9 879.6,430.0 875.8,430.8" fill="#fff" opacity="0.07"/>
<polygon points="872.1,391.9 883.5,429.3 879.6,430.0" fill="#902000" opacity="0.22"/>
<polygon points="785.7,414.6 791.0,429.7 786.5,431.2" fill="url(#gRh)" />
<polygon points="785.7,414.6 788.8,430.4 786.5,431.2" fill="#fff" opacity="0.07"/>
<polygon points="785.7,414.6 791.0,429.7 788.8,430.4" fill="#902000" opacity="0.22"/>
<polygon points="787.9,411.5 793.8,430.2 789.5,431.7" fill="url(#gRh)" />
<polygon points="787.9,411.5 791.7,430.9 789.5,431.7" fill="#fff" opacity="0.07"/>
<polygon points="787.9,411.5 793.8,430.2 791.7,430.9" fill="#902000" opacity="0.22"/>
<polygon points="901.9,356.9 919.6,430.7 913.7,432.2" fill="url(#gRh)" />
<polygon points="901.9,356.9 916.7,431.4 913.7,432.2" fill="#fff" opacity="0.07"/>
<polygon points="901.9,356.9 919.6,430.7 916.7,431.4" fill="#902000" opacity="0.22"/>
<polygon points="794.8,403.9 804.0,431.8 796.8,433.3" fill="url(#gRh)" />
<polygon points="794.8,403.9 800.4,432.5 796.8,433.3" fill="#fff" opacity="0.07"/>
<polygon points="794.8,403.9 804.0,431.8 800.4,432.5" fill="#902000" opacity="0.22"/>
<polygon points="774.9,416.0 782.1,432.5 774.2,434.0" fill="url(#gRh)" />
<polygon points="774.9,416.0 778.2,433.2 774.2,434.0" fill="#fff" opacity="0.07"/>
<polygon points="774.9,416.0 782.1,432.5 778.2,433.2" fill="#902000" opacity="0.22"/>
<polygon points="831.7,370.0 847.0,432.6 841.4,434.1" fill="url(#gRh)" />
<polygon points="831.7,370.0 844.2,433.3 841.4,434.1" fill="#fff" opacity="0.07"/>
<polygon points="831.7,370.0 847.0,432.6 844.2,433.3" fill="#902000" opacity="0.22"/>
<polygon points="798.8,386.3 810.7,432.8 805.5,434.3" fill="url(#gRh)" />
<polygon points="798.8,386.3 808.1,433.5 805.5,434.3" fill="#fff" opacity="0.07"/>
<polygon points="798.8,386.3 810.7,432.8 808.1,433.5" fill="#902000" opacity="0.22"/>
<polygon points="849.0,360.5 867.1,433.1 859.9,434.6" fill="url(#gRh)" />
<polygon points="849.0,360.5 863.5,433.8 859.9,434.6" fill="#fff" opacity="0.07"/>
<polygon points="849.0,360.5 867.1,433.1 863.5,433.8" fill="#902000" opacity="0.22"/>
<polygon points="772.1,413.3 778.2,433.7 774.2,435.2" fill="url(#gRh)" />
<polygon points="772.1,413.3 776.2,434.4 774.2,435.2" fill="#fff" opacity="0.07"/>
<polygon points="772.1,413.3 778.2,433.7 776.2,434.4" fill="#902000" opacity="0.22"/>
<polygon points="846.0,398.7 855.6,434.1 850.5,435.6" fill="url(#gRh)" />
<polygon points="846.0,398.7 853.0,434.8 850.5,435.6" fill="#fff" opacity="0.07"/>
<polygon points="846.0,398.7 855.6,434.1 853.0,434.8" fill="#902000" opacity="0.22"/>
<polygon points="831.5,370.7 847.2,434.1 841.1,435.6" fill="url(#gRh)" />
<polygon points="831.5,370.7 844.2,434.8 841.1,435.6" fill="#fff" opacity="0.07"/>
<polygon points="831.5,370.7 847.2,434.1 844.2,434.8" fill="#902000" opacity="0.22"/>
<polygon points="843.0,370.2 858.4,434.2 853.2,435.7" fill="url(#gRh)" />
<polygon points="843.0,370.2 855.8,434.9 853.2,435.7" fill="#fff" opacity="0.07"/>
<polygon points="843.0,370.2 858.4,434.2 855.8,434.9" fill="#902000" opacity="0.22"/>
<polygon points="853.8,406.2 861.7,434.9 857.4,436.4" fill="url(#gRh)" />
<polygon points="853.8,406.2 859.6,435.6 857.4,436.4" fill="#fff" opacity="0.07"/>
<polygon points="853.8,406.2 861.7,434.9 859.6,435.6" fill="#902000" opacity="0.22"/>
<polygon points="854.4,389.6 866.7,435.0 860.3,436.5" fill="url(#gRh)" />
<polygon points="854.4,389.6 863.5,435.7 860.3,436.5" fill="#fff" opacity="0.07"/>
<polygon points="854.4,389.6 866.7,435.0 863.5,435.7" fill="#902000" opacity="0.22"/>
<polygon points="855.2,372.0 870.9,435.9 865.1,437.4" fill="url(#gRh)" />
<polygon points="855.2,372.0 868.0,436.6 865.1,437.4" fill="#fff" opacity="0.07"/>
<polygon points="855.2,372.0 870.9,435.9 868.0,436.6" fill="#902000" opacity="0.22"/>
<polygon points="817.8,400.3 828.8,435.9 821.0,437.4" fill="url(#gRh)" />
<polygon points="817.8,400.3 824.9,436.6 821.0,437.4" fill="#fff" opacity="0.07"/>
<polygon points="817.8,400.3 828.8,435.9 824.9,436.6" fill="#902000" opacity="0.22"/>
<polygon points="768.8,418.8 775.3,437.0 769.6,438.5" fill="url(#gRh)" />
<polygon points="768.8,418.8 772.4,437.7 769.6,438.5" fill="#fff" opacity="0.07"/>
<polygon points="768.8,418.8 775.3,437.0 772.4,437.7" fill="#902000" opacity="0.22"/>
<polygon points="890.1,370.1 906.3,437.9 901.1,439.4" fill="url(#gRh)" />
<polygon points="890.1,370.1 903.7,438.6 901.1,439.4" fill="#fff" opacity="0.07"/>
<polygon points="890.1,370.1 906.3,437.9 903.7,438.6" fill="#902000" opacity="0.22"/>
<polygon points="780.5,421.7 787.6,438.5 780.2,440.0" fill="url(#gRh)" />
<polygon points="780.5,421.7 783.9,439.2 780.2,440.0" fill="#fff" opacity="0.07"/>
<polygon points="780.5,421.7 787.6,438.5 783.9,439.2" fill="#902000" opacity="0.22"/>
<polygon points="820.4,396.6 832.4,438.5 825.1,440.0" fill="url(#gRh)" />
<polygon points="820.4,396.6 828.7,439.2 825.1,440.0" fill="#fff" opacity="0.07"/>
<polygon points="820.4,396.6 832.4,438.5 828.7,439.2" fill="#902000" opacity="0.22"/>
<polygon points="787.5,408.9 796.6,439.4 790.5,440.9" fill="url(#gRh)" />
<polygon points="787.5,408.9 793.6,440.1 790.5,440.9" fill="#fff" opacity="0.07"/>
<polygon points="787.5,408.9 796.6,439.4 793.6,440.1" fill="#902000" opacity="0.22"/>
<polygon points="844.5,372.4 860.0,439.8 856.0,441.3" fill="url(#gRh)" />
<polygon points="844.5,372.4 858.0,440.5 856.0,441.3" fill="#fff" opacity="0.07"/>
<polygon points="844.5,372.4 860.0,439.8 858.0,440.5" fill="#902000" opacity="0.22"/>
<polygon points="886.4,403.0 897.0,440.4 890.8,441.9" fill="url(#gRh)" />
<polygon points="886.4,403.0 893.9,441.1 890.8,441.9" fill="#fff" opacity="0.07"/>
<polygon points="886.4,403.0 897.0,440.4 893.9,441.1" fill="#902000" opacity="0.22"/>
<polygon points="811.9,379.6 827.4,441.0 821.0,442.5" fill="url(#gRh)" />
<polygon points="811.9,379.6 824.2,441.7 821.0,442.5" fill="#fff" opacity="0.07"/>
<polygon points="811.9,379.6 827.4,441.0 824.2,441.7" fill="#902000" opacity="0.22"/>
<polygon points="801.2,424.9 807.4,442.0 801.8,443.5" fill="url(#gRh)" />
<polygon points="801.2,424.9 804.6,442.7 801.8,443.5" fill="#fff" opacity="0.07"/>
<polygon points="801.2,424.9 807.4,442.0 804.6,442.7" fill="#902000" opacity="0.22"/>
<polygon points="891.0,386.9 905.5,443.0 898.9,444.5" fill="url(#gRh)" />
<polygon points="891.0,386.9 902.2,443.7 898.9,444.5" fill="#fff" opacity="0.07"/>
<polygon points="891.0,386.9 905.5,443.0 902.2,443.7" fill="#902000" opacity="0.22"/>
<polygon points="783.8,407.7 794.7,443.6 787.3,445.1" fill="url(#gRh)" />
<polygon points="783.8,407.7 791.0,444.3 787.3,445.1" fill="#fff" opacity="0.07"/>
<polygon points="783.8,407.7 794.7,443.6 791.0,444.3" fill="#902000" opacity="0.22"/>
<polygon points="843.7,421.8 850.8,443.7 845.3,445.2" fill="url(#gRh)" />
<polygon points="843.7,421.8 848.0,444.4 845.3,445.2" fill="#fff" opacity="0.07"/>
<polygon points="843.7,421.8 850.8,443.7 848.0,444.4" fill="#902000" opacity="0.22"/>
<polygon points="838.3,389.6 852.9,443.8 845.4,445.3" fill="url(#gRh)" />
<polygon points="838.3,389.6 849.1,444.5 845.4,445.3" fill="#fff" opacity="0.07"/>
<polygon points="838.3,389.6 852.9,443.8 849.1,444.5" fill="#902000" opacity="0.22"/>
<polygon points="777.4,418.1 785.8,443.9 779.3,445.4" fill="url(#gRh)" />
<polygon points="777.4,418.1 782.6,444.6 779.3,445.4" fill="#fff" opacity="0.07"/>
<polygon points="777.4,418.1 785.8,443.9 782.6,444.6" fill="#902000" opacity="0.22"/>
<polygon points="797.2,420.5 805.1,445.4 799.3,446.9" fill="url(#gRh)" />
<polygon points="797.2,420.5 802.2,446.1 799.3,446.9" fill="#fff" opacity="0.07"/>
<polygon points="797.2,420.5 805.1,445.4 802.2,446.1" fill="#902000" opacity="0.22"/>
<polygon points="855.9,378.3 872.6,445.9 866.2,447.4" fill="url(#gRh)" />
<polygon points="855.9,378.3 869.4,446.6 866.2,447.4" fill="#fff" opacity="0.07"/>
<polygon points="855.9,378.3 872.6,445.9 869.4,446.6" fill="#902000" opacity="0.22"/>
<polygon points="792.7,415.5 801.0,446.0 796.7,447.5" fill="url(#gRh)" />
<polygon points="792.7,415.5 798.8,446.7 796.7,447.5" fill="#fff" opacity="0.07"/>
<polygon points="792.7,415.5 801.0,446.0 798.8,446.7" fill="#902000" opacity="0.22"/>
<polygon points="842.7,406.5 852.8,446.1 848.4,447.6" fill="url(#gRh)" />
<polygon points="842.7,406.5 850.6,446.8 848.4,447.6" fill="#fff" opacity="0.07"/>
<polygon points="842.7,406.5 852.8,446.1 850.6,446.8" fill="#902000" opacity="0.22"/>
<polygon points="851.0,406.0 861.4,447.4 857.1,448.9" fill="url(#gRh)" />
<polygon points="851.0,406.0 859.2,448.1 857.1,448.9" fill="#fff" opacity="0.07"/>
<polygon points="851.0,406.0 861.4,447.4 859.2,448.1" fill="#902000" opacity="0.22"/>
<polygon points="774.3,434.0 780.7,448.4 773.6,449.9" fill="url(#gRh)" />
<polygon points="774.3,434.0 777.2,449.1 773.6,449.9" fill="#fff" opacity="0.07"/>
<polygon points="774.3,434.0 780.7,448.4 777.2,449.1" fill="#902000" opacity="0.22"/>
<polygon points="880.5,371.9 898.1,448.4 893.6,449.9" fill="url(#gRh)" />
<polygon points="880.5,371.9 895.8,449.1 893.6,449.9" fill="#fff" opacity="0.07"/>
<polygon points="880.5,371.9 898.1,448.4 895.8,449.1" fill="#902000" opacity="0.22"/>
<polygon points="884.1,388.3 899.2,448.5 893.1,450.0" fill="url(#gRh)" />
<polygon points="884.1,388.3 896.1,449.2 893.1,450.0" fill="#fff" opacity="0.07"/>
<polygon points="884.1,388.3 899.2,448.5 896.1,449.2" fill="#902000" opacity="0.22"/>
<polygon points="802.7,380.5 819.7,449.1 813.1,450.6" fill="url(#gRh)" />
<polygon points="802.7,380.5 816.4,449.8 813.1,450.6" fill="#fff" opacity="0.07"/>
<polygon points="802.7,380.5 819.7,449.1 816.4,449.8" fill="#902000" opacity="0.22"/>
<polygon points="805.0,388.9 819.7,449.2 814.4,450.7" fill="url(#gRh)" />
<polygon points="805.0,388.9 817.1,449.9 814.4,450.7" fill="#fff" opacity="0.07"/>
<polygon points="805.0,388.9 819.7,449.2 817.1,449.9" fill="#902000" opacity="0.22"/>
<polygon points="845.0,385.3 861.3,449.2 854.4,450.7" fill="url(#gRh)" />
<polygon points="845.0,385.3 857.8,449.9 854.4,450.7" fill="#fff" opacity="0.07"/>
<polygon points="845.0,385.3 861.3,449.2 857.8,449.9" fill="#902000" opacity="0.22"/>
<polygon points="818.4,399.1 832.1,449.3 824.7,450.8" fill="url(#gRh)" />
<polygon points="818.4,399.1 828.4,450.0 824.7,450.8" fill="#fff" opacity="0.07"/>
<polygon points="818.4,399.1 832.1,449.3 828.4,450.0" fill="#902000" opacity="0.22"/>
<polygon points="770.9,429.6 778.6,450.2 771.5,451.7" fill="url(#gRh)" />
<polygon points="770.9,429.6 775.0,450.9 771.5,451.7" fill="#fff" opacity="0.07"/>
<polygon points="770.9,429.6 778.6,450.2 775.0,450.9" fill="#902000" opacity="0.22"/>
<polygon points="876.4,381.0 894.2,450.5 886.4,452.0" fill="url(#gRh)" />
<polygon points="876.4,381.0 890.3,451.2 886.4,452.0" fill="#fff" opacity="0.07"/>
<polygon points="876.4,381.0 894.2,450.5 890.3,451.2" fill="#902000" opacity="0.22"/>
<polygon points="783.3,435.6 789.5,451.2 783.3,452.7" fill="url(#gRh)" />
<polygon points="783.3,435.6 786.4,451.9 783.3,452.7" fill="#fff" opacity="0.07"/>
<polygon points="783.3,435.6 789.5,451.2 786.4,451.9" fill="#902000" opacity="0.22"/>
<polygon points="765.4,436.0 770.6,451.4 766.5,452.9" fill="url(#gRh)" />
<polygon points="765.4,436.0 768.5,452.1 766.5,452.9" fill="#fff" opacity="0.07"/>
<polygon points="765.4,436.0 770.6,451.4 768.5,452.1" fill="#902000" opacity="0.22"/>
<polygon points="784.1,408.9 796.1,453.0 789.7,454.5" fill="url(#gRh)" />
<polygon points="784.1,408.9 792.9,453.7 789.7,454.5" fill="#fff" opacity="0.07"/>
<polygon points="784.1,408.9 796.1,453.0 792.9,453.7" fill="#902000" opacity="0.22"/>
<polygon points="771.5,432.4 779.6,453.7 772.0,455.2" fill="url(#gRh)" />
<polygon points="771.5,432.4 775.8,454.4 772.0,455.2" fill="#fff" opacity="0.07"/>
<polygon points="771.5,432.4 779.6,453.7 775.8,454.4" fill="#902000" opacity="0.22"/>
<polygon points="837.5,413.7 847.7,453.7 843.3,455.2" fill="url(#gRh)" />
<polygon points="837.5,413.7 845.5,454.4 843.3,455.2" fill="#fff" opacity="0.07"/>
<polygon points="837.5,413.7 847.7,453.7 845.5,454.4" fill="#902000" opacity="0.22"/>
<polygon points="794.6,436.7 801.2,453.9 794.8,455.4" fill="url(#gRh)" />
<polygon points="794.6,436.7 798.0,454.6 794.8,455.4" fill="#fff" opacity="0.07"/>
<polygon points="794.6,436.7 801.2,453.9 798.0,454.6" fill="#902000" opacity="0.22"/>
<polygon points="820.7,395.7 836.3,454.3 828.6,455.8" fill="url(#gRh)" />
<polygon points="820.7,395.7 832.4,455.0 828.6,455.8" fill="#fff" opacity="0.07"/>
<polygon points="820.7,395.7 836.3,454.3 832.4,455.0" fill="#902000" opacity="0.22"/>
<polygon points="783.2,434.9 790.4,455.3 784.2,456.8" fill="url(#gRh)" />
<polygon points="783.2,434.9 787.3,456.0 784.2,456.8" fill="#fff" opacity="0.07"/>
<polygon points="783.2,434.9 790.4,455.3 787.3,456.0" fill="#902000" opacity="0.22"/>
<polygon points="851.3,393.4 866.6,456.2 861.2,457.7" fill="url(#gRh)" />
<polygon points="851.3,393.4 863.9,456.9 861.2,457.7" fill="#fff" opacity="0.07"/>
<polygon points="851.3,393.4 866.6,456.2 863.9,456.9" fill="#902000" opacity="0.22"/>
<polygon points="786.1,412.4 798.6,458.1 791.9,459.6" fill="url(#gRh)" />
<polygon points="786.1,412.4 795.2,458.8 791.9,459.6" fill="#fff" opacity="0.07"/>
<polygon points="786.1,412.4 798.6,458.1 795.2,458.8" fill="#902000" opacity="0.22"/>
<polygon points="850.3,414.2 862.9,458.6 855.5,460.1" fill="url(#gRh)" />
<polygon points="850.3,414.2 859.2,459.3 855.5,460.1" fill="#fff" opacity="0.07"/>
<polygon points="850.3,414.2 862.9,458.6 859.2,459.3" fill="#902000" opacity="0.22"/>
<polygon points="780.4,428.0 790.1,460.0 783.6,461.5" fill="url(#gRh)" />
<polygon points="780.4,428.0 786.9,460.7 783.6,461.5" fill="#fff" opacity="0.07"/>
<polygon points="780.4,428.0 790.1,460.0 786.9,460.7" fill="#902000" opacity="0.22"/>
<polygon points="786.7,421.9 797.8,460.1 790.9,461.6" fill="url(#gRh)" />
<polygon points="786.7,421.9 794.4,460.8 790.9,461.6" fill="#fff" opacity="0.07"/>
<polygon points="786.7,421.9 797.8,460.1 794.4,460.8" fill="#902000" opacity="0.22"/>
<polygon points="777.4,433.5 787.0,464.3 780.2,465.8" fill="url(#gRh)" />
<polygon points="777.4,433.5 783.6,465.0 780.2,465.8" fill="#fff" opacity="0.07"/>
<polygon points="777.4,433.5 787.0,464.3 783.6,465.0" fill="#902000" opacity="0.22"/>
<polygon points="780.3,429.5 790.2,468.1 785.8,469.6" fill="url(#gRh)" />
<polygon points="780.3,429.5 788.0,468.8 785.8,469.6" fill="#fff" opacity="0.07"/>
<polygon points="780.3,429.5 790.2,468.1 788.0,468.8" fill="#902000" opacity="0.22"/>
<polygon points="777.2,437.0 786.4,468.1 780.4,469.6" fill="url(#gRh)" />
<polygon points="777.2,437.0 783.4,468.8 780.4,469.6" fill="#fff" opacity="0.07"/>
<polygon points="777.2,437.0 786.4,468.1 783.4,468.8" fill="#902000" opacity="0.22"/>
<polygon points="824.9,423.8 836.1,468.1 831.5,469.6" fill="url(#gRh)" />
<polygon points="824.9,423.8 833.8,468.8 831.5,469.6" fill="#fff" opacity="0.07"/>
<polygon points="824.9,423.8 836.1,468.1 833.8,468.8" fill="#902000" opacity="0.22"/>
<polygon points="779.0,452.1 785.8,468.2 778.7,469.7" fill="url(#gRh)" />
<polygon points="779.0,452.1 782.2,468.9 778.7,469.7" fill="#fff" opacity="0.07"/>
<polygon points="779.0,452.1 785.8,468.2 782.2,468.9" fill="#902000" opacity="0.22"/>
<polygon points="775.7,451.5 781.9,468.6 776.4,470.1" fill="url(#gRh)" />
<polygon points="775.7,451.5 779.2,469.3 776.4,470.1" fill="#fff" opacity="0.07"/>
<polygon points="775.7,451.5 781.9,468.6 779.2,469.3" fill="#902000" opacity="0.22"/>
<polygon points="809.7,401.2 827.5,470.4 819.5,471.9" fill="url(#gRh)" />
<polygon points="809.7,401.2 823.5,471.1 819.5,471.9" fill="#fff" opacity="0.07"/>
<polygon points="809.7,401.2 827.5,470.4 823.5,471.1" fill="#902000" opacity="0.22"/>
<polygon points="774.6,454.2 781.0,470.6 774.7,472.1" fill="url(#gRh)" />
<polygon points="774.6,454.2 777.8,471.3 774.7,472.1" fill="#fff" opacity="0.07"/>
<polygon points="774.6,454.2 781.0,470.6 777.8,471.3" fill="#902000" opacity="0.22"/>
<polygon points="774.8,459.8 781.0,473.4 774.0,474.9" fill="url(#gRh)" />
<polygon points="774.8,459.8 777.5,474.1 774.0,474.9" fill="#fff" opacity="0.07"/>
<polygon points="774.8,459.8 781.0,473.4 777.5,474.1" fill="#902000" opacity="0.22"/>
<polygon points="813.7,424.9 826.6,476.4 821.4,477.9" fill="url(#gRh)" />
<polygon points="813.7,424.9 824.0,477.1 821.4,477.9" fill="#fff" opacity="0.07"/>
<polygon points="813.7,424.9 826.6,476.4 824.0,477.1" fill="#902000" opacity="0.22"/>
<polygon points="822.9,446.0 832.4,480.4 827.2,481.9" fill="url(#gRh)" />
<polygon points="822.9,446.0 829.8,481.1 827.2,481.9" fill="#fff" opacity="0.07"/>
<polygon points="822.9,446.0 832.4,480.4 829.8,481.1" fill="#902000" opacity="0.22"/>
<polygon points="777.5,407.5 789.0,450.0 783.0,451.5" fill="url(#gRh)" />
<polygon points="777.5,407.5 786.0,450.7 783.0,451.5" fill="#fff" opacity="0.07"/>
<polygon points="777.5,407.5 789.0,450.0 786.0,450.7" fill="#902000" opacity="0.22"/>
<polygon points="792.5,412.5 803.4,452.0 797.4,453.5" fill="url(#gRh)" />
<polygon points="792.5,412.5 800.4,452.7 797.4,453.5" fill="#fff" opacity="0.07"/>
<polygon points="792.5,412.5 803.4,452.0 800.4,452.7" fill="#902000" opacity="0.22"/>
<polygon points="796.0,362.0 815.1,440.0 808.1,441.5" fill="url(#gRh)" />
<polygon points="796.0,362.0 811.6,440.7 808.1,441.5" fill="#fff" opacity="0.07"/>
<polygon points="796.0,362.0 815.1,440.0 811.6,440.7" fill="#902000" opacity="0.22"/>
<polygon points="803.0,343.0 827.4,445.0 819.4,446.5" fill="url(#gRh)" />
<polygon points="803.0,343.0 823.4,445.7 819.4,446.5" fill="#fff" opacity="0.07"/>
<polygon points="803.0,343.0 827.4,445.0 823.4,445.7" fill="#902000" opacity="0.22"/>
<polygon points="823.0,383.0 837.4,440.0 831.4,441.5" fill="url(#gRh)" />
<polygon points="823.0,383.0 834.4,440.7 831.4,441.5" fill="#fff" opacity="0.07"/>
<polygon points="823.0,383.0 837.4,440.0 834.4,440.7" fill="#902000" opacity="0.22"/>
<polygon points="834.0,373.0 849.9,435.0 842.9,436.5" fill="url(#gRh)" />
<polygon points="834.0,373.0 846.4,435.7 842.9,436.5" fill="#fff" opacity="0.07"/>
<polygon points="834.0,373.0 849.9,435.0 846.4,435.7" fill="#902000" opacity="0.22"/>
<polygon points="849.5,365.7 865.9,430.0 858.9,431.5" fill="url(#gRh)" />
<polygon points="849.5,365.7 862.4,430.7 858.9,431.5" fill="#fff" opacity="0.07"/>
<polygon points="849.5,365.7 865.9,430.0 862.4,430.7" fill="#902000" opacity="0.22"/>
<polygon points="866.7,362.0 882.8,425.0 875.8,426.5" fill="url(#gRh)" />
<polygon points="866.7,362.0 879.3,425.7 875.8,426.5" fill="#fff" opacity="0.07"/>
<polygon points="866.7,362.0 882.8,425.0 879.3,425.7" fill="#902000" opacity="0.22"/>
<polygon points="876.0,346.7 894.2,420.0 887.2,421.5" fill="url(#gRh)" />
<polygon points="876.0,346.7 890.7,420.7 887.2,421.5" fill="#fff" opacity="0.07"/>
<polygon points="876.0,346.7 894.2,420.0 890.7,420.7" fill="#902000" opacity="0.22"/>
<polygon points="880.0,303.0 908.4,425.0 900.4,426.5" fill="url(#gRh)" />
<polygon points="880.0,303.0 904.4,425.7 900.4,426.5" fill="#fff" opacity="0.07"/>
<polygon points="880.0,303.0 908.4,425.0 904.4,425.7" fill="#902000" opacity="0.22"/>
<polygon points="889.5,337.0 907.6,410.0 900.6,411.5" fill="url(#gRh)" />
<polygon points="889.5,337.0 904.1,410.7 900.6,411.5" fill="#fff" opacity="0.07"/>
<polygon points="889.5,337.0 907.6,410.0 904.1,410.7" fill="#902000" opacity="0.22"/>
<polygon points="897.0,318.0 917.9,405.0 910.9,406.5" fill="url(#gRh)" />
<polygon points="897.0,318.0 914.4,405.7 910.9,406.5" fill="#fff" opacity="0.07"/>
<polygon points="897.0,318.0 917.9,405.0 914.4,405.7" fill="#902000" opacity="0.22"/>
<polygon points="903.0,306.7 925.7,400.0 917.7,401.5" fill="url(#gRh)" />
<polygon points="903.0,306.7 921.7,400.7 917.7,401.5" fill="#fff" opacity="0.07"/>
<polygon points="903.0,306.7 925.7,400.0 921.7,400.7" fill="#902000" opacity="0.22"/>
<polygon points="918.0,318.0 937.4,395.0 929.4,396.5" fill="url(#gRh)" />
<polygon points="918.0,318.0 933.4,395.7 929.4,396.5" fill="#fff" opacity="0.07"/>
<polygon points="918.0,318.0 937.4,395.0 933.4,395.7" fill="#902000" opacity="0.22"/>
<polygon points="927.6,316.0 946.4,390.0 938.4,391.5" fill="url(#gRh)" />
<polygon points="927.6,316.0 942.4,390.7 938.4,391.5" fill="#fff" opacity="0.07"/>
<polygon points="927.6,316.0 946.4,390.0 942.4,390.7" fill="#902000" opacity="0.22"/>
<polygon points="939.0,308.6 958.3,385.0 950.3,386.5" fill="url(#gRh)" />
<polygon points="939.0,308.6 954.3,385.7 950.3,386.5" fill="#fff" opacity="0.07"/>
<polygon points="939.0,308.6 958.3,385.0 954.3,385.7" fill="#902000" opacity="0.22"/>
<polygon points="944.8,291.4 966.5,380.0 958.5,381.5" fill="url(#gRh)" />
<polygon points="944.8,291.4 962.5,380.7 958.5,381.5" fill="#fff" opacity="0.07"/>
<polygon points="944.8,291.4 966.5,380.0 962.5,380.7" fill="#902000" opacity="0.22"/>
<polygon points="758.0,443.8 766.2,470.0 760.2,471.5" fill="url(#gRh)" />
<polygon points="758.0,443.8 763.2,470.7 760.2,471.5" fill="#fff" opacity="0.07"/>
<polygon points="758.0,443.8 766.2,470.0 763.2,470.7" fill="#902000" opacity="0.22"/>
<polygon points="748.6,447.0 756.2,470.0 750.2,471.5" fill="url(#gRh)" />
<polygon points="748.6,447.0 753.2,470.7 750.2,471.5" fill="#fff" opacity="0.07"/>
<polygon points="748.6,447.0 756.2,470.0 753.2,470.7" fill="#902000" opacity="0.22"/>
<polygon points="724.8,462.9 730.0,450.0 747.5,449.0 757.5,444.0 770.0,426.0 815.0,409.0 842.0,398.0 872.0,386.0 888.0,367.0 910.0,348.0 933.0,333.0 942.0,303.6 1000.0,303.0 1000.0,425.0 990.0,432.5 987.5,450.0 975.0,456.0 960.0,458.8 940.0,463.8 931.0,467.5 928.8,480.0 920.0,491.0 912.0,486.0 900.0,486.0 893.8,495.0 885.0,482.5 875.0,477.5 873.8,503.8 870.0,494.0 865.0,482.5 860.0,497.5 850.0,485.0 838.8,495.0 835.0,505.0 830.0,516.0 823.0,508.0 815.0,500.0 805.0,502.5 787.5,493.8 772.5,502.5 765.0,495.0 753.8,498.8 750.0,522.5 741.0,527.0 732.5,531.0 725.0,515.0 721.3,502.5 733.0,499.0" fill="url(#mesh)" />
<polygon points="942.0,241.5 989.5,241.5 1001.0,273.0 1020.0,311.0 1043.0,338.0 1073.0,357.0 1095.0,362.5 1114.5,365.7 1081.0,383.6 1043.0,402.6 1012.4,416.0 991.4,425.5 987.6,448.0 982.0,456.0 960.0,459.0 940.0,464.0 938.0,338.0 942.0,303.6 945.7,265.5" fill="url(#gR)" />
<polygon points="942.0,241.5 989.5,241.5 1001.0,273.0 1020.0,311.0 1043.0,338.0 1073.0,357.0 1095.0,362.5 1114.5,365.7 1081.0,383.6 1043.0,402.6 1012.4,416.0 991.4,425.5 987.6,448.0 982.0,456.0 960.0,459.0 940.0,464.0 938.0,338.0 942.0,303.6 945.7,265.5" fill="url(#gRred)" />
<polygon points="942.0,241.5 989.5,241.5 1001.0,273.0 1020.0,311.0 1043.0,338.0 1073.0,357.0 1095.0,362.5 1114.5,365.7 1081.0,383.6 1043.0,402.6 1012.4,416.0 991.4,425.5 987.6,448.0 982.0,456.0 960.0,459.0 940.0,464.0 938.0,338.0 942.0,303.6 945.7,265.5" fill="url(#mesh2)" />
<g fill="#e4e850" stroke="#5a5a10" stroke-width="0.4">
<circle cx="856.9" cy="348.0" r="1.6"/>
<circle cx="743.2" cy="485.8" r="1.6"/>
<circle cx="781.9" cy="462.3" r="1.6"/>
<circle cx="766.3" cy="452.0" r="1.6"/>
<circle cx="855.4" cy="466.1" r="1.6"/>
<circle cx="820.4" cy="409.5" r="1.6"/>
<circle cx="946.1" cy="407.5" r="1.6"/>
<circle cx="845.4" cy="378.6" r="1.6"/>
<circle cx="888.6" cy="456.0" r="1.6"/>
<circle cx="784.1" cy="435.0" r="1.6"/>
<circle cx="828.5" cy="496.1" r="1.6"/>
<circle cx="934.2" cy="306.9" r="1.6"/>
<circle cx="860.9" cy="383.3" r="1.6"/>
<circle cx="940.3" cy="318.3" r="1.6"/>
<circle cx="794.0" cy="462.5" r="1.6"/>
<circle cx="813.4" cy="380.3" r="1.6"/>
<circle cx="753.0" cy="442.4" r="1.6"/>
<circle cx="945.1" cy="382.4" r="1.6"/>
<circle cx="882.7" cy="374.9" r="1.6"/>
<circle cx="806.7" cy="466.6" r="1.6"/>
<circle cx="772.1" cy="466.8" r="1.6"/>
<circle cx="801.2" cy="431.7" r="1.6"/>
<circle cx="991.2" cy="334.3" r="1.6"/>
<circle cx="956.8" cy="354.5" r="1.6"/>
<circle cx="767.3" cy="450.4" r="1.6"/>
<circle cx="875.1" cy="361.7" r="1.6"/>
<circle cx="928.0" cy="420.1" r="1.6"/>
<circle cx="848.2" cy="491.1" r="1.6"/>
<circle cx="753.7" cy="491.6" r="1.6"/>
<circle cx="852.8" cy="407.3" r="1.6"/>
<circle cx="836.0" cy="400.9" r="1.6"/>
<circle cx="788.8" cy="378.8" r="1.6"/>
<circle cx="914.4" cy="413.9" r="1.6"/>
<circle cx="822.4" cy="482.6" r="1.6"/>
<circle cx="819.1" cy="506.0" r="1.6"/>
<circle cx="843.7" cy="481.3" r="1.6"/>
<circle cx="887.5" cy="380.6" r="1.6"/>
<circle cx="824.4" cy="401.2" r="1.6"/>
<circle cx="806.8" cy="502.4" r="1.6"/>
<circle cx="877.6" cy="365.0" r="1.6"/>
<circle cx="846.2" cy="452.4" r="1.6"/>
<circle cx="840.8" cy="404.1" r="1.6"/>
<circle cx="798.2" cy="414.0" r="1.6"/>
<circle cx="892.4" cy="362.8" r="1.6"/>
<circle cx="893.8" cy="465.9" r="1.6"/>
<circle cx="934.5" cy="344.3" r="1.6"/>
<circle cx="906.8" cy="473.9" r="1.6"/>
<circle cx="787.7" cy="413.7" r="1.6"/>
<circle cx="806.9" cy="372.0" r="1.6"/>
<circle cx="817.4" cy="399.5" r="1.6"/>
<circle cx="856.1" cy="447.4" r="1.6"/>
<circle cx="806.8" cy="453.2" r="1.6"/>
<circle cx="867.0" cy="338.3" r="1.6"/>
<circle cx="935.0" cy="401.1" r="1.6"/>
<circle cx="867.2" cy="354.0" r="1.6"/>
<circle cx="868.0" cy="413.0" r="1.6"/>
<circle cx="896.9" cy="364.5" r="1.6"/>
<circle cx="855.6" cy="439.2" r="1.6"/>
<circle cx="771.6" cy="471.0" r="1.6"/>
<circle cx="932.0" cy="358.2" r="1.6"/>
<circle cx="898.5" cy="439.3" r="1.6"/>
<circle cx="764.0" cy="470.5" r="1.6"/>
<circle cx="889.3" cy="352.4" r="1.6"/>
<circle cx="877.8" cy="358.1" r="1.6"/>
<circle cx="857.9" cy="351.7" r="1.6"/>
<circle cx="837.5" cy="351.9" r="1.6"/>
<circle cx="875.1" cy="480.9" r="1.6"/>
<circle cx="920.2" cy="348.9" r="1.6"/>
<circle cx="819.1" cy="485.3" r="1.6"/>
<circle cx="817.1" cy="360.9" r="1.6"/>
<circle cx="969.9" cy="373.2" r="1.6"/>
<circle cx="857.6" cy="443.7" r="1.6"/>
<circle cx="882.1" cy="393.1" r="1.6"/>
<circle cx="864.5" cy="400.9" r="1.6"/>
<circle cx="953.8" cy="289.0" r="1.6"/>
<circle cx="773.6" cy="438.1" r="1.6"/>
<circle cx="877.4" cy="362.2" r="1.6"/>
<circle cx="831.8" cy="492.9" r="1.6"/>
<circle cx="909.8" cy="476.9" r="1.6"/>
<circle cx="931.4" cy="461.4" r="1.6"/>
<circle cx="786.2" cy="438.7" r="1.6"/>
<circle cx="877.2" cy="426.3" r="1.6"/>
<circle cx="921.2" cy="396.4" r="1.6"/>
<circle cx="827.6" cy="451.8" r="1.6"/>
<circle cx="871.8" cy="432.6" r="1.6"/>
<circle cx="848.2" cy="420.3" r="1.6"/>
<circle cx="868.2" cy="399.8" r="1.6"/>
<circle cx="886.0" cy="377.3" r="1.6"/>
<circle cx="838.1" cy="440.2" r="1.6"/>
<circle cx="904.7" cy="474.6" r="1.6"/>
<circle cx="815.1" cy="457.0" r="1.6"/>
<circle cx="754.2" cy="473.8" r="1.6"/>
<circle cx="928.8" cy="377.6" r="1.6"/>
<circle cx="864.0" cy="390.3" r="1.6"/>
<circle cx="829.1" cy="397.8" r="1.6"/>
<circle cx="945.1" cy="317.7" r="1.6"/>
<circle cx="786.7" cy="484.3" r="1.6"/>
<circle cx="884.4" cy="411.5" r="1.6"/>
<circle cx="862.9" cy="395.2" r="1.6"/>
<circle cx="841.5" cy="418.0" r="1.6"/>
<circle cx="845.6" cy="406.3" r="1.6"/>
<circle cx="929.2" cy="299.7" r="1.6"/>
<circle cx="754.9" cy="468.4" r="1.6"/>
<circle cx="889.1" cy="481.7" r="1.6"/>
<circle cx="827.0" cy="412.0" r="1.6"/>
<circle cx="889.6" cy="388.0" r="1.6"/>
<circle cx="902.1" cy="396.0" r="1.6"/>
<circle cx="868.4" cy="374.0" r="1.6"/>
<circle cx="908.2" cy="338.5" r="1.6"/>
<circle cx="815.0" cy="457.1" r="1.6"/>
<circle cx="816.2" cy="420.6" r="1.6"/>
<circle cx="851.3" cy="476.0" r="1.6"/>
<circle cx="950.7" cy="425.3" r="1.6"/>
<circle cx="774.8" cy="489.3" r="1.6"/>
<circle cx="857.0" cy="456.4" r="1.6"/>
<circle cx="870.0" cy="489.8" r="1.6"/>
<circle cx="783.2" cy="443.4" r="1.6"/>
<circle cx="905.9" cy="487.4" r="1.6"/>
<circle cx="866.4" cy="484.1" r="1.6"/>
<circle cx="888.0" cy="489.3" r="1.6"/>
<circle cx="773.0" cy="494.5" r="1.6"/>
<circle cx="812.8" cy="488.7" r="1.6"/>
<circle cx="796.3" cy="392.8" r="1.6"/>
<circle cx="908.4" cy="408.7" r="1.6"/>
<circle cx="766.8" cy="399.8" r="1.6"/>
<circle cx="812.7" cy="471.1" r="1.6"/>
<circle cx="873.7" cy="488.5" r="1.6"/>
<circle cx="945.6" cy="342.6" r="1.6"/>
<circle cx="961.2" cy="377.4" r="1.6"/>
<circle cx="859.5" cy="403.0" r="1.6"/>
<circle cx="882.3" cy="375.5" r="1.6"/>
<circle cx="864.9" cy="406.8" r="1.6"/>
<circle cx="956.2" cy="316.1" r="1.6"/>
<circle cx="773.9" cy="463.8" r="1.6"/>
<circle cx="924.8" cy="312.4" r="1.6"/>
<circle cx="794.6" cy="436.7" r="1.6"/>
<circle cx="808.0" cy="469.2" r="1.6"/>
<circle cx="843.3" cy="457.4" r="1.6"/>
<circle cx="943.1" cy="291.6" r="1.6"/>
<circle cx="814.8" cy="366.3" r="1.6"/>
<circle cx="894.9" cy="404.2" r="1.6"/>
<circle cx="894.1" cy="363.0" r="1.6"/>
<circle cx="894.7" cy="330.5" r="1.6"/>
<circle cx="863.2" cy="476.4" r="1.6"/>
<circle cx="886.6" cy="477.2" r="1.6"/>
<circle cx="864.2" cy="340.3" r="1.6"/>
<circle cx="834.0" cy="447.0" r="1.6"/>
<circle cx="912.2" cy="419.4" r="1.6"/>
<circle cx="789.1" cy="489.6" r="1.6"/>
<circle cx="889.7" cy="386.7" r="1.6"/>
<circle cx="855.4" cy="390.1" r="1.6"/>
<circle cx="849.0" cy="486.9" r="1.6"/>
<circle cx="884.2" cy="462.6" r="1.6"/>
<circle cx="851.3" cy="386.4" r="1.6"/>
<circle cx="846.3" cy="488.3" r="1.6"/>
<circle cx="959.5" cy="462.1" r="1.6"/>
<circle cx="760.6" cy="429.1" r="1.6"/>
<circle cx="873.1" cy="401.5" r="1.6"/>
<circle cx="844.9" cy="416.6" r="1.6"/>
<circle cx="809.8" cy="494.8" r="1.6"/>
<circle cx="886.7" cy="377.6" r="1.6"/>
<circle cx="935.2" cy="346.8" r="1.6"/>
<circle cx="885.1" cy="421.3" r="1.6"/>
<circle cx="883.6" cy="401.6" r="1.6"/>
<circle cx="907.0" cy="410.7" r="1.6"/>
<circle cx="882.0" cy="350.7" r="1.6"/>
<circle cx="908.1" cy="323.2" r="1.6"/>
<circle cx="874.7" cy="348.7" r="1.6"/>
<circle cx="892.6" cy="431.4" r="1.6"/>
<circle cx="873.2" cy="376.2" r="1.6"/>
<circle cx="893.5" cy="364.1" r="1.6"/>
<circle cx="892.9" cy="465.2" r="1.6"/>
<circle cx="743.6" cy="520.0" r="1.6"/>
<circle cx="854.0" cy="441.7" r="1.6"/>
<circle cx="843.6" cy="471.8" r="1.6"/>
<circle cx="972.6" cy="419.1" r="1.6"/>
<circle cx="858.9" cy="487.8" r="1.6"/>
<circle cx="892.9" cy="486.4" r="1.6"/>
<circle cx="823.8" cy="490.4" r="1.6"/>
<circle cx="914.6" cy="346.0" r="1.6"/>
<circle cx="855.3" cy="476.3" r="1.6"/>
<circle cx="766.8" cy="437.8" r="1.6"/>
<circle cx="933.2" cy="292.5" r="1.6"/>
<circle cx="928.6" cy="371.9" r="1.6"/>
<circle cx="830.2" cy="399.7" r="1.6"/>
<circle cx="803.5" cy="412.4" r="1.6"/>
<circle cx="786.8" cy="478.4" r="1.6"/>
<circle cx="822.9" cy="439.7" r="1.6"/>
<circle cx="894.6" cy="496.0" r="1.6"/>
<circle cx="861.1" cy="444.8" r="1.6"/>
<circle cx="895.7" cy="390.2" r="1.6"/>
<circle cx="892.5" cy="390.4" r="1.6"/>
<circle cx="898.1" cy="326.4" r="1.6"/>
<circle cx="797.4" cy="455.2" r="1.6"/>
<circle cx="914.6" cy="396.6" r="1.6"/>
<circle cx="916.0" cy="355.7" r="1.6"/>
<circle cx="914.6" cy="391.8" r="1.6"/>
<circle cx="782.9" cy="418.9" r="1.6"/>
<circle cx="857.1" cy="425.3" r="1.6"/>
<circle cx="854.8" cy="484.9" r="1.6"/>
<circle cx="880.7" cy="396.7" r="1.6"/>
<circle cx="803.2" cy="410.0" r="1.6"/>
<circle cx="825.9" cy="414.3" r="1.6"/>
<circle cx="794.3" cy="429.6" r="1.6"/>
<circle cx="936.0" cy="421.1" r="1.6"/>
<circle cx="778.8" cy="385.5" r="1.6"/>
<circle cx="891.4" cy="438.5" r="1.6"/>
<circle cx="850.2" cy="414.7" r="1.6"/>
<circle cx="801.6" cy="453.1" r="1.6"/>
<circle cx="842.9" cy="485.4" r="1.6"/>
<circle cx="883.8" cy="331.8" r="1.6"/>
<circle cx="931.0" cy="435.6" r="1.6"/>
<circle cx="923.4" cy="483.7" r="1.6"/>
<circle cx="804.8" cy="397.3" r="1.6"/>
<circle cx="782.5" cy="412.1" r="1.6"/>
<circle cx="742.9" cy="483.9" r="1.6"/>
<circle cx="895.5" cy="358.3" r="1.6"/>
<circle cx="810.6" cy="486.4" r="1.6"/>
<circle cx="868.3" cy="429.2" r="1.6"/>
<circle cx="814.8" cy="495.2" r="1.6"/>
<circle cx="786.1" cy="377.5" r="1.6"/>
<circle cx="809.5" cy="462.0" r="1.6"/>
<circle cx="841.4" cy="475.0" r="1.6"/>
<circle cx="825.9" cy="397.7" r="1.6"/>
<circle cx="892.2" cy="477.3" r="1.6"/>
<circle cx="892.6" cy="489.2" r="1.6"/>
<circle cx="871.6" cy="398.8" r="1.6"/>
<circle cx="851.8" cy="461.4" r="1.6"/>
<circle cx="779.1" cy="384.6" r="1.6"/>
<circle cx="891.1" cy="430.4" r="1.6"/>
<circle cx="898.4" cy="413.5" r="1.6"/>
<circle cx="812.0" cy="506.4" r="1.6"/>
<circle cx="858.1" cy="406.4" r="1.6"/>
<circle cx="858.0" cy="432.4" r="1.6"/>
<circle cx="837.7" cy="460.9" r="1.6"/>
<circle cx="797.7" cy="398.9" r="1.6"/>
<circle cx="919.8" cy="351.3" r="1.6"/>
<circle cx="849.7" cy="485.5" r="1.6"/>
<circle cx="816.4" cy="468.3" r="1.6"/>
<circle cx="864.0" cy="414.6" r="1.6"/>
<circle cx="778.1" cy="385.4" r="1.6"/>
<circle cx="875.2" cy="379.7" r="1.6"/>
<circle cx="976.7" cy="378.5" r="1.6"/>
<circle cx="931.1" cy="423.5" r="1.6"/>
<circle cx="808.9" cy="478.7" r="1.6"/>
<circle cx="772.6" cy="419.5" r="1.6"/>
<circle cx="819.7" cy="427.6" r="1.6"/>
<circle cx="847.4" cy="388.3" r="1.6"/>
<circle cx="848.7" cy="367.1" r="1.6"/>
<circle cx="839.2" cy="391.3" r="1.6"/>
<circle cx="803.2" cy="422.2" r="1.6"/>
<circle cx="852.1" cy="423.1" r="1.6"/>
<circle cx="899.3" cy="438.6" r="1.6"/>
<circle cx="895.9" cy="400.6" r="1.6"/>
<circle cx="751.7" cy="424.7" r="1.6"/>
<circle cx="840.7" cy="431.6" r="1.6"/>
<circle cx="839.8" cy="442.6" r="1.6"/>
<circle cx="947.0" cy="461.7" r="1.6"/>
<circle cx="845.6" cy="494.0" r="1.6"/>
<circle cx="931.7" cy="341.0" r="1.6"/>
<circle cx="851.5" cy="417.8" r="1.6"/>
<circle cx="953.8" cy="376.7" r="1.6"/>
<circle cx="835.8" cy="460.2" r="1.6"/>
<circle cx="808.8" cy="407.7" r="1.6"/>
<circle cx="919.7" cy="387.6" r="1.6"/>
<circle cx="788.3" cy="465.9" r="1.6"/>
<circle cx="950.4" cy="419.8" r="1.6"/>
<circle cx="875.7" cy="473.7" r="1.6"/>
<circle cx="805.6" cy="407.0" r="1.6"/>
<circle cx="924.8" cy="485.0" r="1.6"/>
<circle cx="904.4" cy="441.6" r="1.6"/>
<circle cx="846.7" cy="489.3" r="1.6"/>
<circle cx="788.0" cy="414.0" r="1.6"/>
<circle cx="908.5" cy="469.5" r="1.6"/>
<circle cx="818.1" cy="438.2" r="1.6"/>
<circle cx="928.2" cy="326.4" r="1.6"/>
<circle cx="885.1" cy="360.4" r="1.6"/>
<circle cx="805.8" cy="425.7" r="1.6"/>
<circle cx="761.2" cy="489.6" r="1.6"/>
<circle cx="884.9" cy="406.9" r="1.6"/>
<circle cx="789.1" cy="488.3" r="1.6"/>
<circle cx="864.0" cy="442.4" r="1.6"/>
<circle cx="868.0" cy="358.5" r="1.6"/>
<circle cx="862.1" cy="353.1" r="1.6"/>
<circle cx="782.1" cy="372.4" r="1.6"/>
<circle cx="804.3" cy="380.8" r="1.6"/>
<circle cx="816.4" cy="463.7" r="1.6"/>
<circle cx="889.0" cy="430.8" r="1.6"/>
<circle cx="736.6" cy="444.8" r="1.6"/>
<circle cx="855.4" cy="378.4" r="1.6"/>
<circle cx="865.4" cy="370.9" r="1.6"/>
<circle cx="758.6" cy="433.4" r="1.6"/>
<circle cx="834.5" cy="477.8" r="1.6"/>
<circle cx="900.4" cy="324.2" r="1.6"/>
<circle cx="940.9" cy="269.3" r="1.6"/>
<circle cx="903.4" cy="367.5" r="1.6"/>
<circle cx="880.3" cy="390.1" r="1.6"/>
<circle cx="926.2" cy="339.5" r="1.6"/>
<circle cx="874.8" cy="373.6" r="1.6"/>
<circle cx="951.3" cy="368.9" r="1.6"/>
<circle cx="753.0" cy="549.0" r="1.6"/>
</g>
<line x1="697.5" y1="128.7" x2="691.7" y2="130.3" stroke="#ddd" stroke-width="1" />
<text transform="translate(691.0 133.7) rotate(-15.0)" font-size="8" fill="#f2f2dc" text-anchor="end" >0.0800</text>
<line x1="710.0" y1="183.0" x2="704.2" y2="184.6" stroke="#ddd" stroke-width="1" />
<text transform="translate(703.5 188.0) rotate(-15.0)" font-size="8" fill="#f2f2dc" text-anchor="end" >0.0700</text>
<line x1="724.0" y1="235.0" x2="718.2" y2="236.6" stroke="#ddd" stroke-width="1" />
<text transform="translate(717.5 240.0) rotate(-15.0)" font-size="8" fill="#f2f2dc" text-anchor="end" >0.0600</text>
<line x1="737.3" y1="289.0" x2="731.5" y2="290.6" stroke="#ddd" stroke-width="1" />
<text transform="translate(730.8 294.0) rotate(-15.0)" font-size="8" fill="#f2f2dc" text-anchor="end" >0.0500</text>
<line x1="750.6" y1="344.0" x2="744.8" y2="345.6" stroke="#ddd" stroke-width="1" />
<text transform="translate(744.1 349.0) rotate(-15.0)" font-size="8" fill="#f2f2dc" text-anchor="end" >0.0400</text>
<line x1="764.2" y1="401.5" x2="758.4" y2="403.1" stroke="#ddd" stroke-width="1" />
<text transform="translate(757.7 406.5) rotate(-15.0)" font-size="8" fill="#f2f2dc" text-anchor="end" >0.0300</text>
<line x1="778.5" y1="460.0" x2="772.7" y2="461.6" stroke="#ddd" stroke-width="1" />
<text transform="translate(772.0 465.0) rotate(-15.0)" font-size="8" fill="#f2f2dc" text-anchor="end" >0.0200</text>
<line x1="793.5" y1="518.5" x2="787.7" y2="520.1" stroke="#ddd" stroke-width="1" />
<text transform="translate(787.0 523.5) rotate(-15.0)" font-size="8" fill="#f2f2dc" text-anchor="end" >0.0100</text>
<line x1="809.0" y1="578.0" x2="803.2" y2="579.6" stroke="#ddd" stroke-width="1" />
<text transform="translate(802.5 583.0) rotate(-15.0)" font-size="8" fill="#f2f2dc" text-anchor="end" >0.0000</text>
<line x1="804.9" y1="566.4" x2="807.9" y2="565.6" stroke="#999" stroke-width="0.8" />
<line x1="801.8" y1="554.5" x2="804.8" y2="553.7" stroke="#999" stroke-width="0.8" />
<line x1="798.7" y1="542.6" x2="801.7" y2="541.8" stroke="#999" stroke-width="0.8" />
<line x1="795.6" y1="530.7" x2="798.6" y2="529.9" stroke="#999" stroke-width="0.8" />
<line x1="789.5" y1="507.1" x2="792.5" y2="506.3" stroke="#999" stroke-width="0.8" />
<line x1="786.5" y1="495.4" x2="789.5" y2="494.6" stroke="#999" stroke-width="0.8" />
<line x1="783.5" y1="483.7" x2="786.5" y2="482.9" stroke="#999" stroke-width="0.8" />
<line x1="780.5" y1="472.0" x2="783.5" y2="471.2" stroke="#999" stroke-width="0.8" />
<line x1="774.6" y1="448.6" x2="777.6" y2="447.8" stroke="#999" stroke-width="0.8" />
<line x1="771.8" y1="436.9" x2="774.8" y2="436.1" stroke="#999" stroke-width="0.8" />
<line x1="768.9" y1="425.2" x2="771.9" y2="424.4" stroke="#999" stroke-width="0.8" />
<line x1="766.1" y1="413.5" x2="769.1" y2="412.7" stroke="#999" stroke-width="0.8" />
<line x1="760.5" y1="390.3" x2="763.5" y2="389.5" stroke="#999" stroke-width="0.8" />
<line x1="757.8" y1="378.8" x2="760.8" y2="378.0" stroke="#999" stroke-width="0.8" />
<line x1="755.0" y1="367.3" x2="758.0" y2="366.5" stroke="#999" stroke-width="0.8" />
<line x1="752.3" y1="355.8" x2="755.3" y2="355.0" stroke="#999" stroke-width="0.8" />
<line x1="746.9" y1="333.3" x2="749.9" y2="332.5" stroke="#999" stroke-width="0.8" />
<line x1="744.3" y1="322.3" x2="747.3" y2="321.5" stroke="#999" stroke-width="0.8" />
<line x1="741.6" y1="311.3" x2="744.6" y2="310.5" stroke="#999" stroke-width="0.8" />
<line x1="739.0" y1="300.3" x2="742.0" y2="299.5" stroke="#999" stroke-width="0.8" />
<line x1="733.6" y1="278.5" x2="736.6" y2="277.7" stroke="#999" stroke-width="0.8" />
<line x1="731.0" y1="267.7" x2="734.0" y2="266.9" stroke="#999" stroke-width="0.8" />
<line x1="728.3" y1="256.9" x2="731.3" y2="256.1" stroke="#999" stroke-width="0.8" />
<line x1="725.7" y1="246.1" x2="728.7" y2="245.3" stroke="#999" stroke-width="0.8" />
<line x1="720.2" y1="224.9" x2="723.2" y2="224.1" stroke="#999" stroke-width="0.8" />
<line x1="717.4" y1="214.5" x2="720.4" y2="213.7" stroke="#999" stroke-width="0.8" />
<line x1="714.6" y1="204.1" x2="717.6" y2="203.3" stroke="#999" stroke-width="0.8" />
<line x1="711.8" y1="193.7" x2="714.8" y2="192.9" stroke="#999" stroke-width="0.8" />
<line x1="706.5" y1="172.4" x2="709.5" y2="171.6" stroke="#999" stroke-width="0.8" />
<line x1="704.0" y1="161.6" x2="707.0" y2="160.8" stroke="#999" stroke-width="0.8" />
<line x1="701.5" y1="150.7" x2="704.5" y2="149.9" stroke="#999" stroke-width="0.8" />
<line x1="699.0" y1="139.9" x2="702.0" y2="139.1" stroke="#999" stroke-width="0.8" />
<text transform="translate(800.0 58.0) rotate(-15.0)" font-size="10.3" fill="#f4f4e4" text-anchor="middle" >Trading surface chart</text>
<text transform="translate(715.5 336.0) rotate(-104.0)" font-size="8.7" fill="#e6e28a" text-anchor="middle" >standardDeviation</text>
<text transform="translate(813.0 594.5) rotate(-15.0)" font-size="8" fill="#f2f2dc" text-anchor="middle" >0.0</text>
<text transform="translate(896.0 560.5) rotate(-15.0)" font-size="8" fill="#f2f2dc" text-anchor="middle" >10.0</text>
<text transform="translate(968.6 530.5) rotate(-15.0)" font-size="8" fill="#f2f2dc" text-anchor="middle" >20.0</text>
<text transform="translate(1031.0 504.5) rotate(-15.0)" font-size="8" fill="#f2f2dc" text-anchor="middle" >30.0</text>
<text transform="translate(1087.0 481.5) rotate(-15.0)" font-size="8" fill="#f2f2dc" text-anchor="middle" >40.0</text>
<text transform="translate(1137.0 461.5) rotate(-15.0)" font-size="8" fill="#f2f2dc" text-anchor="middle" >50.0</text>
<text transform="translate(1009.5 529.0) rotate(-23.0)" font-size="8.7" fill="#e6e28a" text-anchor="middle" >dmi_adxr</text>
<text transform="translate(954.4 459.5) rotate(-7.0)" font-size="8" fill="#f2f2dc" text-anchor="middle" >2.00</text>
<text transform="translate(994.4 455.0) rotate(-7.0)" font-size="8" fill="#f2f2dc" text-anchor="middle" >1.00</text>
<text transform="translate(1042.0 453.0) rotate(-7.0)" font-size="8" fill="#f2f2dc" text-anchor="middle" >0.00</text>
<text transform="translate(1103.0 447.4) rotate(-7.0)" font-size="8" fill="#f2f2dc" text-anchor="middle" >-1.00</text>
<text transform="translate(1062.7 445.0) rotate(-6.0)" font-size="8.7" fill="#e6e28a" text-anchor="middle" >skewness</text>
<line x1="811.0" y1="581.7" x2="812.4" y2="587.0" stroke="#ccc" stroke-width="0.9" />
<line x1="827.1" y1="575.2" x2="827.8" y2="577.6" stroke="#888" stroke-width="0.9" />
<line x1="843.5" y1="568.5" x2="844.2" y2="571.0" stroke="#888" stroke-width="0.9" />
<line x1="860.2" y1="561.8" x2="860.8" y2="564.2" stroke="#888" stroke-width="0.9" />
<line x1="877.1" y1="555.0" x2="877.8" y2="557.4" stroke="#888" stroke-width="0.9" />
<line x1="894.3" y1="548.0" x2="895.7" y2="553.3" stroke="#ccc" stroke-width="0.9" />
<line x1="908.1" y1="542.6" x2="908.8" y2="545.0" stroke="#888" stroke-width="0.9" />
<line x1="922.2" y1="537.1" x2="922.8" y2="539.5" stroke="#888" stroke-width="0.9" />
<line x1="936.5" y1="531.5" x2="937.1" y2="533.9" stroke="#888" stroke-width="0.9" />
<line x1="951.0" y1="525.8" x2="951.6" y2="528.2" stroke="#888" stroke-width="0.9" />
<line x1="965.7" y1="520.0" x2="967.1" y2="525.3" stroke="#ccc" stroke-width="0.9" />
<line x1="977.8" y1="514.8" x2="978.4" y2="517.2" stroke="#888" stroke-width="0.9" />
<line x1="990.0" y1="509.5" x2="990.7" y2="511.9" stroke="#888" stroke-width="0.9" />
<line x1="1002.5" y1="504.1" x2="1003.1" y2="506.5" stroke="#888" stroke-width="0.9" />
<line x1="1015.1" y1="498.6" x2="1015.8" y2="501.0" stroke="#888" stroke-width="0.9" />
<line x1="1028.0" y1="493.0" x2="1029.4" y2="498.3" stroke="#ccc" stroke-width="0.9" />
<line x1="1038.9" y1="488.7" x2="1039.5" y2="491.1" stroke="#888" stroke-width="0.9" />
<line x1="1049.9" y1="484.3" x2="1050.5" y2="486.7" stroke="#888" stroke-width="0.9" />
<line x1="1061.1" y1="479.8" x2="1061.7" y2="482.3" stroke="#888" stroke-width="0.9" />
<line x1="1072.4" y1="475.3" x2="1073.1" y2="477.7" stroke="#888" stroke-width="0.9" />
<line x1="1084.0" y1="470.7" x2="1085.4" y2="476.0" stroke="#ccc" stroke-width="0.9" />
<line x1="1093.7" y1="466.7" x2="1094.3" y2="469.1" stroke="#888" stroke-width="0.9" />
<line x1="1103.5" y1="462.6" x2="1104.2" y2="465.0" stroke="#888" stroke-width="0.9" />
<line x1="1113.5" y1="458.5" x2="1114.2" y2="460.9" stroke="#888" stroke-width="0.9" />
<line x1="1123.7" y1="454.3" x2="1124.3" y2="456.7" stroke="#888" stroke-width="0.9" />
<line x1="1134.0" y1="450.0" x2="1135.4" y2="455.3" stroke="#ccc" stroke-width="0.9" />
</g>
<polygon points="0.0,122.6 590.5,-36.2 734.5,501.0 144.5,659.8" fill="#000" opacity="0.16" filter="url(#shw)"/>
<polygon points="2.0,126.6 592.5,-32.2 736.5,505.0 146.5,663.8" fill="#000" opacity="0.30" filter="url(#sh)"/>
<polygon points="0.0,120.6 590.5,-38.2 734.5,499.0 144.5,657.8" fill="url(#lp)" />
<polygon points="571.0,-3.0 601.5,-3.0 734.5,499.0 690.0,511.0 612.5,331.0" fill="#fff" opacity="0.05"/>
<g class="lbl">
<polygon points="56.4,141.7 569.6,3.8 609.5,331.0 490.5,533.0 191.0,466.0" fill="url(#lwall)" />
<polygon points="191.0,466.0 361.5,311.5 609.5,331.0 490.5,533.0" fill="url(#lfloor)" />
<g stroke="#484848" stroke-width="0.8" fill="none">
<polyline points="64.8,164.4 304.0,92.0 572.3,26.0" />
<polyline points="82.9,208.9 311.9,122.0 577.6,69.6" />
<polyline points="100.3,249.5 319.7,151.6 582.5,110.0" />
<polyline points="117.1,288.9 327.4,181.0 587.5,151.0" />
<polyline points="132.4,325.5 334.8,209.5 592.3,190.0" />
<polyline points="146.9,363.6 342.0,237.0 596.8,227.0" />
<polyline points="161.0,397.9 349.1,264.0 601.3,264.0" />
<polyline points="175.0,431.4 354.9,286.0 605.5,298.0" />
<line x1="299.7" y1="75.4" x2="361.5" y2="311.5" />
<line x1="81.0" y1="135.0" x2="208.2" y2="450.4" />
<line x1="120.6" y1="124.2" x2="236.0" y2="425.2" />
<line x1="157.0" y1="114.3" x2="261.5" y2="402.1" />
<line x1="189.0" y1="105.6" x2="283.9" y2="381.8" />
<line x1="219.7" y1="97.2" x2="305.4" y2="362.3" />
<line x1="247.6" y1="89.6" x2="325.0" y2="344.6" />
<line x1="272.9" y1="82.7" x2="342.7" y2="328.5" />
</g><g stroke="#383838" stroke-width="0.7" fill="none">
<line x1="310.6" y1="72.5" x2="371.5" y2="312.3" />
<line x1="321.7" y1="69.6" x2="381.7" y2="313.1" />
<line x1="333.1" y1="66.5" x2="392.2" y2="313.9" />
<line x1="344.7" y1="63.5" x2="402.8" y2="314.8" />
<line x1="356.5" y1="60.3" x2="413.7" y2="315.6" />
<line x1="368.6" y1="57.1" x2="424.8" y2="316.5" />
<line x1="381.0" y1="53.8" x2="436.2" y2="317.4" />
<line x1="393.6" y1="50.5" x2="447.8" y2="318.3" />
<line x1="406.5" y1="47.1" x2="459.6" y2="319.2" />
<line x1="419.7" y1="43.6" x2="471.7" y2="320.2" />
<line x1="433.1" y1="40.0" x2="484.1" y2="321.1" />
<line x1="446.9" y1="36.3" x2="496.8" y2="322.1" />
<line x1="461.0" y1="32.6" x2="509.7" y2="323.2" />
<line x1="475.4" y1="28.8" x2="523.0" y2="324.2" />
<line x1="490.2" y1="24.9" x2="536.6" y2="325.3" />
<line x1="505.3" y1="20.8" x2="550.5" y2="326.4" />
<line x1="520.8" y1="16.7" x2="564.7" y2="327.5" />
<line x1="536.7" y1="12.5" x2="579.3" y2="328.6" />
<line x1="552.9" y1="8.2" x2="594.2" y2="329.8" />
<line x1="208.2" y1="450.4" x2="502.5" y2="512.6" />
<line x1="236.0" y1="425.2" x2="521.9" y2="479.7" />
<line x1="261.5" y1="402.1" x2="539.7" y2="449.5" />
<line x1="283.9" y1="381.8" x2="555.4" y2="422.9" />
<line x1="305.4" y1="362.3" x2="570.3" y2="397.5" />
<line x1="325.0" y1="344.6" x2="584.0" y2="374.2" />
<line x1="342.7" y1="328.5" x2="596.4" y2="353.2" />
<line x1="200.8" y1="468.2" x2="368.6" y2="312.1" />
<line x1="200.8" y1="468.2" x2="201.4" y2="470.6" stroke="#bbb" stroke-width="0.8" />
<line x1="212.3" y1="470.8" x2="377.0" y2="312.7" />
<line x1="212.3" y1="470.8" x2="213.0" y2="473.2" stroke="#bbb" stroke-width="0.8" />
<line x1="224.1" y1="473.4" x2="385.7" y2="313.4" />
<line x1="224.1" y1="473.4" x2="224.8" y2="475.8" stroke="#bbb" stroke-width="0.8" />
<line x1="236.2" y1="476.1" x2="394.7" y2="314.1" />
<line x1="236.2" y1="476.1" x2="237.4" y2="480.5" stroke="#bbb" stroke-width="0.8" />
<line x1="248.5" y1="478.9" x2="404.0" y2="314.8" />
<line x1="248.5" y1="478.9" x2="249.2" y2="481.3" stroke="#bbb" stroke-width="0.8" />
<line x1="261.1" y1="481.7" x2="413.5" y2="315.6" />
<line x1="261.1" y1="481.7" x2="261.7" y2="484.1" stroke="#bbb" stroke-width="0.8" />
<line x1="273.9" y1="484.5" x2="423.4" y2="316.4" />
<line x1="273.9" y1="484.5" x2="274.6" y2="487.0" stroke="#bbb" stroke-width="0.8" />
<line x1="287.0" y1="487.5" x2="433.6" y2="317.2" />
<line x1="287.0" y1="487.5" x2="288.2" y2="491.8" stroke="#bbb" stroke-width="0.8" />
<line x1="300.3" y1="490.5" x2="444.2" y2="318.0" />
<line x1="300.3" y1="490.5" x2="301.0" y2="492.9" stroke="#bbb" stroke-width="0.8" />
<line x1="314.0" y1="493.5" x2="455.0" y2="318.9" />
<line x1="314.0" y1="493.5" x2="314.6" y2="495.9" stroke="#bbb" stroke-width="0.8" />
<line x1="327.8" y1="496.6" x2="466.3" y2="319.7" />
<line x1="327.8" y1="496.6" x2="328.5" y2="499.0" stroke="#bbb" stroke-width="0.8" />
<line x1="341.9" y1="499.8" x2="477.8" y2="320.6" />
<line x1="341.9" y1="499.8" x2="343.1" y2="504.1" stroke="#bbb" stroke-width="0.8" />
<line x1="356.3" y1="503.0" x2="489.8" y2="321.6" />
<line x1="356.3" y1="503.0" x2="357.0" y2="505.4" stroke="#bbb" stroke-width="0.8" />
<line x1="371.0" y1="506.3" x2="502.1" y2="322.6" />
<line x1="371.0" y1="506.3" x2="371.6" y2="508.7" stroke="#bbb" stroke-width="0.8" />
<line x1="385.8" y1="509.6" x2="514.8" y2="323.6" />
<line x1="385.8" y1="509.6" x2="386.5" y2="512.0" stroke="#bbb" stroke-width="0.8" />
<line x1="401.0" y1="513.0" x2="527.9" y2="324.6" />
<line x1="401.0" y1="513.0" x2="402.2" y2="517.3" stroke="#bbb" stroke-width="0.8" />
<line x1="416.4" y1="516.4" x2="541.5" y2="325.7" />
<line x1="416.4" y1="516.4" x2="417.1" y2="518.9" stroke="#bbb" stroke-width="0.8" />
<line x1="432.1" y1="519.9" x2="555.4" y2="326.8" />
<line x1="432.1" y1="519.9" x2="432.7" y2="522.4" stroke="#bbb" stroke-width="0.8" />
<line x1="448.0" y1="523.5" x2="569.9" y2="327.9" />
<line x1="448.0" y1="523.5" x2="448.7" y2="525.9" stroke="#bbb" stroke-width="0.8" />
<line x1="464.2" y1="527.1" x2="584.8" y2="329.1" />
<line x1="464.2" y1="527.1" x2="465.4" y2="531.5" stroke="#bbb" stroke-width="0.8" />
<line x1="480.6" y1="530.8" x2="600.1" y2="330.3" />
<line x1="480.6" y1="530.8" x2="481.3" y2="533.2" stroke="#bbb" stroke-width="0.8" />
</g>
<g stroke="#6a6a6a" stroke-width="1" fill="none">
<polyline points="56.4,141.7 191.0,466.0 490.5,533.0 609.5,331.0" />
<polyline points="56.4,141.7 569.6,3.8 609.5,331.0" stroke="#3a3a3a"/>
</g>
<line x1="504.4" y1="512.2" x2="508.3" y2="511.2" stroke="#ccc" stroke-width="0.9" />
<line x1="524.4" y1="477.3" x2="528.3" y2="476.3" stroke="#ccc" stroke-width="0.9" />
<line x1="543.3" y1="446.7" x2="547.2" y2="445.7" stroke="#ccc" stroke-width="0.9" />
<line x1="560.5" y1="418.4" x2="564.4" y2="417.4" stroke="#ccc" stroke-width="0.9" />
<line x1="576.0" y1="393.0" x2="579.9" y2="392.0" stroke="#ccc" stroke-width="0.9" />
<line x1="589.2" y1="370.2" x2="593.1" y2="369.2" stroke="#ccc" stroke-width="0.9" />
<line x1="599.4" y1="349.8" x2="603.3" y2="348.8" stroke="#ccc" stroke-width="0.9" />
<line x1="609.5" y1="331.0" x2="613.4" y2="330.0" stroke="#ccc" stroke-width="0.9" />
<polygon points="173.3,416.7 244.3,363.0 262.0,362.0 290.0,320.0 306.0,311.4 329.0,301.0 339.0,289.0 352.0,281.0 385.0,276.0 400.0,266.0 432.0,250.0 445.0,250.0 445.0,444.8 437.8,444.4 400.0,446.0 331.0,444.0 292.0,441.0 284.0,443.0 275.7,448.6 245.7,444.0 224.0,433.6" fill="url(#gLo)" />
<polygon points="173.3,416.7 244.3,363.0 262.0,362.0 290.0,320.0 306.0,311.4 329.0,301.0 339.0,289.0 352.0,281.0 385.0,276.0 400.0,266.0 432.0,250.0 445.0,250.0 445.0,444.8 437.8,444.4 400.0,446.0 331.0,444.0 292.0,441.0 284.0,443.0 275.7,448.6 245.7,444.0 224.0,433.6" fill="url(#gLred)" />
<polygon points="401.1,230.9 412.4,269.6 405.2,271.1" fill="url(#gLh)" />
<polygon points="401.1,230.9 408.8,270.3 405.2,271.1" fill="#fff" opacity="0.07"/>
<polygon points="401.1,230.9 412.4,269.6 408.8,270.3" fill="#902000" opacity="0.22"/>
<polygon points="392.2,243.2 401.7,276.7 396.1,278.2" fill="url(#gLh)" />
<polygon points="392.2,243.2 398.9,277.4 396.1,278.2" fill="#fff" opacity="0.07"/>
<polygon points="392.2,243.2 401.7,276.7 398.9,277.4" fill="#902000" opacity="0.22"/>
<polygon points="407.7,239.2 419.3,280.5 412.7,282.0" fill="url(#gLh)" />
<polygon points="407.7,239.2 416.0,281.2 412.7,282.0" fill="#fff" opacity="0.07"/>
<polygon points="407.7,239.2 419.3,280.5 416.0,281.2" fill="#902000" opacity="0.22"/>
<polygon points="415.6,257.2 423.8,285.7 418.8,287.2" fill="url(#gLh)" />
<polygon points="415.6,257.2 421.3,286.4 418.8,287.2" fill="#fff" opacity="0.07"/>
<polygon points="415.6,257.2 423.8,285.7 421.3,286.4" fill="#902000" opacity="0.22"/>
<polygon points="402.7,246.0 421.2,287.5 415.4,289.0" fill="url(#gLh)" />
<polygon points="402.7,246.0 418.3,288.2 415.4,289.0" fill="#fff" opacity="0.07"/>
<polygon points="402.7,246.0 421.2,287.5 418.3,288.2" fill="#902000" opacity="0.22"/>
<polygon points="405.4,238.6 419.0,289.0 412.0,290.5" fill="url(#gLh)" />
<polygon points="405.4,238.6 415.5,289.7 412.0,290.5" fill="#fff" opacity="0.07"/>
<polygon points="405.4,238.6 419.0,289.0 415.5,289.7" fill="#902000" opacity="0.22"/>
<polygon points="351.2,253.8 368.4,289.6 363.0,291.1" fill="url(#gLh)" />
<polygon points="351.2,253.8 365.7,290.3 363.0,291.1" fill="#fff" opacity="0.07"/>
<polygon points="351.2,253.8 368.4,289.6 365.7,290.3" fill="#902000" opacity="0.22"/>
<polygon points="419.5,253.0 429.9,291.3 424.3,292.8" fill="url(#gLh)" />
<polygon points="419.5,253.0 427.1,292.0 424.3,292.8" fill="#fff" opacity="0.07"/>
<polygon points="419.5,253.0 429.9,291.3 427.1,292.0" fill="#902000" opacity="0.22"/>
<polygon points="411.2,236.3 424.6,292.4 420.1,293.9" fill="url(#gLh)" />
<polygon points="411.2,236.3 422.4,293.1 420.1,293.9" fill="#fff" opacity="0.07"/>
<polygon points="411.2,236.3 424.6,292.4 422.4,293.1" fill="#902000" opacity="0.22"/>
<polygon points="376.2,241.7 391.0,294.7 385.5,296.2" fill="url(#gLh)" />
<polygon points="376.2,241.7 388.3,295.4 385.5,296.2" fill="#fff" opacity="0.07"/>
<polygon points="376.2,241.7 391.0,294.7 388.3,295.4" fill="#902000" opacity="0.22"/>
<polygon points="357.2,246.5 374.7,295.5 369.8,297.0" fill="url(#gLh)" />
<polygon points="357.2,246.5 372.2,296.2 369.8,297.0" fill="#fff" opacity="0.07"/>
<polygon points="357.2,246.5 374.7,295.5 372.2,296.2" fill="#902000" opacity="0.22"/>
<polygon points="332.7,259.9 348.2,296.0 341.4,297.5" fill="url(#gLh)" />
<polygon points="332.7,259.9 344.8,296.7 341.4,297.5" fill="#fff" opacity="0.07"/>
<polygon points="332.7,259.9 348.2,296.0 344.8,296.7" fill="#902000" opacity="0.22"/>
<polygon points="356.1,244.8 371.2,296.5 365.4,298.0" fill="url(#gLh)" />
<polygon points="356.1,244.8 368.3,297.2 365.4,298.0" fill="#fff" opacity="0.07"/>
<polygon points="356.1,244.8 371.2,296.5 368.3,297.2" fill="#902000" opacity="0.22"/>
<polygon points="385.7,252.4 404.6,300.2 397.9,301.7" fill="url(#gLh)" />
<polygon points="385.7,252.4 401.3,300.9 397.9,301.7" fill="#fff" opacity="0.07"/>
<polygon points="385.7,252.4 404.6,300.2 401.3,300.9" fill="#902000" opacity="0.22"/>
<polygon points="351.6,259.1 363.4,300.2 356.3,301.7" fill="url(#gLh)" />
<polygon points="351.6,259.1 359.8,300.9 356.3,301.7" fill="#fff" opacity="0.07"/>
<polygon points="351.6,259.1 363.4,300.2 359.8,300.9" fill="#902000" opacity="0.22"/>
<polygon points="403.4,234.4 419.1,301.1 414.4,302.6" fill="url(#gLh)" />
<polygon points="403.4,234.4 416.7,301.8 414.4,302.6" fill="#fff" opacity="0.07"/>
<polygon points="403.4,234.4 419.1,301.1 416.7,301.8" fill="#902000" opacity="0.22"/>
<polygon points="374.4,274.8 382.2,303.0 377.9,304.5" fill="url(#gLh)" />
<polygon points="374.4,274.8 380.1,303.7 377.9,304.5" fill="#fff" opacity="0.07"/>
<polygon points="374.4,274.8 382.2,303.0 380.1,303.7" fill="#902000" opacity="0.22"/>
<polygon points="334.0,281.3 342.1,304.1 335.0,305.6" fill="url(#gLh)" />
<polygon points="334.0,281.3 338.5,304.8 335.0,305.6" fill="#fff" opacity="0.07"/>
<polygon points="334.0,281.3 342.1,304.1 338.5,304.8" fill="#902000" opacity="0.22"/>
<polygon points="331.4,274.8 340.0,304.3 334.7,305.8" fill="url(#gLh)" />
<polygon points="331.4,274.8 337.3,305.0 334.7,305.8" fill="#fff" opacity="0.07"/>
<polygon points="331.4,274.8 340.0,304.3 337.3,305.0" fill="#902000" opacity="0.22"/>
<polygon points="350.0,256.9 362.9,306.7 357.1,308.2" fill="url(#gLh)" />
<polygon points="350.0,256.9 360.0,307.4 357.1,308.2" fill="#fff" opacity="0.07"/>
<polygon points="350.0,256.9 362.9,306.7 360.0,307.4" fill="#902000" opacity="0.22"/>
<polygon points="383.3,255.4 401.4,307.8 396.2,309.3" fill="url(#gLh)" />
<polygon points="383.3,255.4 398.8,308.5 396.2,309.3" fill="#fff" opacity="0.07"/>
<polygon points="383.3,255.4 401.4,307.8 398.8,308.5" fill="#902000" opacity="0.22"/>
<polygon points="387.1,268.3 397.7,310.4 393.4,311.9" fill="url(#gLh)" />
<polygon points="387.1,268.3 395.5,311.1 393.4,311.9" fill="#fff" opacity="0.07"/>
<polygon points="387.1,268.3 397.7,310.4 395.5,311.1" fill="#902000" opacity="0.22"/>
<polygon points="412.4,237.2 429.9,311.8 424.8,313.3" fill="url(#gLh)" />
<polygon points="412.4,237.2 427.4,312.5 424.8,313.3" fill="#fff" opacity="0.07"/>
<polygon points="412.4,237.2 429.9,311.8 427.4,312.5" fill="#902000" opacity="0.22"/>
<polygon points="387.5,237.6 406.5,314.9 399.5,316.4" fill="url(#gLh)" />
<polygon points="387.5,237.6 403.0,315.6 399.5,316.4" fill="#fff" opacity="0.07"/>
<polygon points="387.5,237.6 406.5,314.9 403.0,315.6" fill="#902000" opacity="0.22"/>
<polygon points="349.3,275.7 361.2,317.5 354.2,319.0" fill="url(#gLh)" />
<polygon points="349.3,275.7 357.7,318.2 354.2,319.0" fill="#fff" opacity="0.07"/>
<polygon points="349.3,275.7 361.2,317.5 357.7,318.2" fill="#902000" opacity="0.22"/>
<polygon points="378.8,249.2 396.2,318.4 389.0,319.9" fill="url(#gLh)" />
<polygon points="378.8,249.2 392.6,319.1 389.0,319.9" fill="#fff" opacity="0.07"/>
<polygon points="378.8,249.2 396.2,318.4 392.6,319.1" fill="#902000" opacity="0.22"/>
<polygon points="374.6,255.3 390.6,320.4 384.6,321.9" fill="url(#gLh)" />
<polygon points="374.6,255.3 387.6,321.1 384.6,321.9" fill="#fff" opacity="0.07"/>
<polygon points="374.6,255.3 390.6,320.4 387.6,321.1" fill="#902000" opacity="0.22"/>
<polygon points="333.5,259.4 349.6,321.4 342.2,322.9" fill="url(#gLh)" />
<polygon points="333.5,259.4 345.9,322.1 342.2,322.9" fill="#fff" opacity="0.07"/>
<polygon points="333.5,259.4 349.6,321.4 345.9,322.1" fill="#902000" opacity="0.22"/>
<polygon points="297.3,290.4 306.7,321.5 300.4,323.0" fill="url(#gLh)" />
<polygon points="297.3,290.4 303.5,322.2 300.4,323.0" fill="#fff" opacity="0.07"/>
<polygon points="297.3,290.4 306.7,321.5 303.5,322.2" fill="#902000" opacity="0.22"/>
<polygon points="358.5,269.1 372.3,322.8 366.2,324.3" fill="url(#gLh)" />
<polygon points="358.5,269.1 369.2,323.5 366.2,324.3" fill="#fff" opacity="0.07"/>
<polygon points="358.5,269.1 372.3,322.8 369.2,323.5" fill="#902000" opacity="0.22"/>
<polygon points="293.6,286.8 303.8,324.2 298.3,325.7" fill="url(#gLh)" />
<polygon points="293.6,286.8 301.1,324.9 298.3,325.7" fill="#fff" opacity="0.07"/>
<polygon points="293.6,286.8 303.8,324.2 301.1,324.9" fill="#902000" opacity="0.22"/>
<polygon points="395.2,261.4 410.8,325.0 405.1,326.5" fill="url(#gLh)" />
<polygon points="395.2,261.4 408.0,325.7 405.1,326.5" fill="#fff" opacity="0.07"/>
<polygon points="395.2,261.4 410.8,325.0 408.0,325.7" fill="#902000" opacity="0.22"/>
<polygon points="293.6,288.5 307.6,327.4 300.8,328.9" fill="url(#gLh)" />
<polygon points="293.6,288.5 304.2,328.1 300.8,328.9" fill="#fff" opacity="0.07"/>
<polygon points="293.6,288.5 307.6,327.4 304.2,328.1" fill="#902000" opacity="0.22"/>
<polygon points="297.6,307.8 305.3,328.8 298.5,330.3" fill="url(#gLh)" />
<polygon points="297.6,307.8 301.9,329.5 298.5,330.3" fill="#fff" opacity="0.07"/>
<polygon points="297.6,307.8 305.3,328.8 301.9,329.5" fill="#902000" opacity="0.22"/>
<polygon points="368.2,290.5 379.7,329.3 372.2,330.8" fill="url(#gLh)" />
<polygon points="368.2,290.5 375.9,330.0 372.2,330.8" fill="#fff" opacity="0.07"/>
<polygon points="368.2,290.5 379.7,329.3 375.9,330.0" fill="#902000" opacity="0.22"/>
<polygon points="305.3,284.1 318.1,330.1 310.8,331.6" fill="url(#gLh)" />
<polygon points="305.3,284.1 314.5,330.8 310.8,331.6" fill="#fff" opacity="0.07"/>
<polygon points="305.3,284.1 318.1,330.1 314.5,330.8" fill="#902000" opacity="0.22"/>
<polygon points="404.6,279.7 417.2,331.6 412.8,333.1" fill="url(#gLh)" />
<polygon points="404.6,279.7 415.0,332.3 412.8,333.1" fill="#fff" opacity="0.07"/>
<polygon points="404.6,279.7 417.2,331.6 415.0,332.3" fill="#902000" opacity="0.22"/>
<polygon points="418.3,260.9 435.6,332.0 429.5,333.5" fill="url(#gLh)" />
<polygon points="418.3,260.9 432.5,332.7 429.5,333.5" fill="#fff" opacity="0.07"/>
<polygon points="418.3,260.9 435.6,332.0 432.5,332.7" fill="#902000" opacity="0.22"/>
<polygon points="389.8,278.3 403.8,332.1 397.4,333.6" fill="url(#gLh)" />
<polygon points="389.8,278.3 400.6,332.8 397.4,333.6" fill="#fff" opacity="0.07"/>
<polygon points="389.8,278.3 403.8,332.1 400.6,332.8" fill="#902000" opacity="0.22"/>
<polygon points="370.8,274.9 385.9,332.6 378.7,334.1" fill="url(#gLh)" />
<polygon points="370.8,274.9 382.3,333.3 378.7,334.1" fill="#fff" opacity="0.07"/>
<polygon points="370.8,274.9 385.9,332.6 382.3,333.3" fill="#902000" opacity="0.22"/>
<polygon points="394.2,257.8 411.9,334.3 407.1,335.8" fill="url(#gLh)" />
<polygon points="394.2,257.8 409.5,335.0 407.1,335.8" fill="#fff" opacity="0.07"/>
<polygon points="394.2,257.8 411.9,334.3 409.5,335.0" fill="#902000" opacity="0.22"/>
<polygon points="299.7,298.4 310.1,334.7 303.9,336.2" fill="url(#gLh)" />
<polygon points="299.7,298.4 307.0,335.4 303.9,336.2" fill="#fff" opacity="0.07"/>
<polygon points="299.7,298.4 310.1,334.7 307.0,335.4" fill="#902000" opacity="0.22"/>
<polygon points="278.5,300.4 288.4,334.9 283.7,336.4" fill="url(#gLh)" />
<polygon points="278.5,300.4 286.0,335.6 283.7,336.4" fill="#fff" opacity="0.07"/>
<polygon points="278.5,300.4 288.4,334.9 286.0,335.6" fill="#902000" opacity="0.22"/>
<polygon points="294.5,295.1 305.4,335.4 299.8,336.9" fill="url(#gLh)" />
<polygon points="294.5,295.1 302.6,336.1 299.8,336.9" fill="#fff" opacity="0.07"/>
<polygon points="294.5,295.1 305.4,335.4 302.6,336.1" fill="#902000" opacity="0.22"/>
<polygon points="283.3,305.2 296.8,337.4 291.3,338.9" fill="url(#gLh)" />
<polygon points="283.3,305.2 294.1,338.1 291.3,338.9" fill="#fff" opacity="0.07"/>
<polygon points="283.3,305.2 296.8,337.4 294.1,338.1" fill="#902000" opacity="0.22"/>
<polygon points="390.2,272.1 406.0,339.3 401.3,340.8" fill="url(#gLh)" />
<polygon points="390.2,272.1 403.7,340.0 401.3,340.8" fill="#fff" opacity="0.07"/>
<polygon points="390.2,272.1 406.0,339.3 403.7,340.0" fill="#902000" opacity="0.22"/>
<polygon points="279.4,322.8 286.6,340.7 279.4,342.2" fill="url(#gLh)" />
<polygon points="279.4,322.8 283.0,341.4 279.4,342.2" fill="#fff" opacity="0.07"/>
<polygon points="279.4,322.8 286.6,340.7 283.0,341.4" fill="#902000" opacity="0.22"/>
<polygon points="332.8,299.8 344.2,341.6 338.1,343.1" fill="url(#gLh)" />
<polygon points="332.8,299.8 341.1,342.3 338.1,343.1" fill="#fff" opacity="0.07"/>
<polygon points="332.8,299.8 344.2,341.6 341.1,342.3" fill="#902000" opacity="0.22"/>
<polygon points="284.5,306.3 298.4,343.5 293.4,345.0" fill="url(#gLh)" />
<polygon points="284.5,306.3 295.9,344.2 293.4,345.0" fill="#fff" opacity="0.07"/>
<polygon points="284.5,306.3 298.4,343.5 295.9,344.2" fill="#902000" opacity="0.22"/>
<polygon points="294.6,322.3 302.2,343.5 295.5,345.0" fill="url(#gLh)" />
<polygon points="294.6,322.3 298.9,344.2 295.5,345.0" fill="#fff" opacity="0.07"/>
<polygon points="294.6,322.3 302.2,343.5 298.9,344.2" fill="#902000" opacity="0.22"/>
<polygon points="316.1,299.7 327.2,343.6 322.6,345.1" fill="url(#gLh)" />
<polygon points="316.1,299.7 324.9,344.3 322.6,345.1" fill="#fff" opacity="0.07"/>
<polygon points="316.1,299.7 327.2,343.6 324.9,344.3" fill="#902000" opacity="0.22"/>
<polygon points="377.0,291.4 391.2,345.0 384.3,346.5" fill="url(#gLh)" />
<polygon points="377.0,291.4 387.7,345.7 384.3,346.5" fill="#fff" opacity="0.07"/>
<polygon points="377.0,291.4 391.2,345.0 387.7,345.7" fill="#902000" opacity="0.22"/>
<polygon points="342.2,314.2 351.3,345.3 345.5,346.8" fill="url(#gLh)" />
<polygon points="342.2,314.2 348.4,346.0 345.5,346.8" fill="#fff" opacity="0.07"/>
<polygon points="342.2,314.2 351.3,345.3 348.4,346.0" fill="#902000" opacity="0.22"/>
<polygon points="325.6,282.3 341.3,346.8 335.7,348.3" fill="url(#gLh)" />
<polygon points="325.6,282.3 338.5,347.5 335.7,348.3" fill="#fff" opacity="0.07"/>
<polygon points="325.6,282.3 341.3,346.8 338.5,347.5" fill="#902000" opacity="0.22"/>
<polygon points="385.7,272.0 403.8,346.8 397.6,348.3" fill="url(#gLh)" />
<polygon points="385.7,272.0 400.7,347.5 397.6,348.3" fill="#fff" opacity="0.07"/>
<polygon points="385.7,272.0 403.8,346.8 400.7,347.5" fill="#902000" opacity="0.22"/>
<polygon points="311.6,284.2 327.0,347.0 321.3,348.5" fill="url(#gLh)" />
<polygon points="311.6,284.2 324.2,347.7 321.3,348.5" fill="#fff" opacity="0.07"/>
<polygon points="311.6,284.2 327.0,347.0 324.2,347.7" fill="#902000" opacity="0.22"/>
<polygon points="279.1,323.4 287.6,348.4 280.6,349.9" fill="url(#gLh)" />
<polygon points="279.1,323.4 284.1,349.1 280.6,349.9" fill="#fff" opacity="0.07"/>
<polygon points="279.1,323.4 287.6,348.4 284.1,349.1" fill="#902000" opacity="0.22"/>
<polygon points="375.5,282.2 392.8,350.8 385.6,352.3" fill="url(#gLh)" />
<polygon points="375.5,282.2 389.2,351.5 385.6,352.3" fill="#fff" opacity="0.07"/>
<polygon points="375.5,282.2 392.8,350.8 389.2,351.5" fill="#902000" opacity="0.22"/>
<polygon points="279.2,304.0 291.0,352.1 286.5,353.6" fill="url(#gLh)" />
<polygon points="279.2,304.0 288.8,352.8 286.5,353.6" fill="#fff" opacity="0.07"/>
<polygon points="279.2,304.0 291.0,352.1 288.8,352.8" fill="#902000" opacity="0.22"/>
<polygon points="326.0,288.5 341.4,352.4 336.1,353.9" fill="url(#gLh)" />
<polygon points="326.0,288.5 338.7,353.1 336.1,353.9" fill="#fff" opacity="0.07"/>
<polygon points="326.0,288.5 341.4,352.4 338.7,353.1" fill="#902000" opacity="0.22"/>
<polygon points="420.7,280.0 437.8,352.6 432.7,354.1" fill="url(#gLh)" />
<polygon points="420.7,280.0 435.2,353.3 432.7,354.1" fill="#fff" opacity="0.07"/>
<polygon points="420.7,280.0 437.8,352.6 435.2,353.3" fill="#902000" opacity="0.22"/>
<polygon points="411.2,311.1 422.0,353.4 417.4,354.9" fill="url(#gLh)" />
<polygon points="411.2,311.1 419.7,354.1 417.4,354.9" fill="#fff" opacity="0.07"/>
<polygon points="411.2,311.1 422.0,353.4 419.7,354.1" fill="#902000" opacity="0.22"/>
<polygon points="334.3,322.8 343.8,353.9 337.3,355.4" fill="url(#gLh)" />
<polygon points="334.3,322.8 340.5,354.6 337.3,355.4" fill="#fff" opacity="0.07"/>
<polygon points="334.3,322.8 343.8,353.9 340.5,354.6" fill="#902000" opacity="0.22"/>
<polygon points="321.3,313.0 333.7,356.6 326.3,358.1" fill="url(#gLh)" />
<polygon points="321.3,313.0 330.0,357.3 326.3,358.1" fill="#fff" opacity="0.07"/>
<polygon points="321.3,313.0 333.7,356.6 330.0,357.3" fill="#902000" opacity="0.22"/>
<polygon points="319.5,322.0 328.7,356.6 324.2,358.1" fill="url(#gLh)" />
<polygon points="319.5,322.0 326.4,357.3 324.2,358.1" fill="#fff" opacity="0.07"/>
<polygon points="319.5,322.0 328.7,356.6 326.4,357.3" fill="#902000" opacity="0.22"/>
<polygon points="288.5,333.5 295.5,358.6 291.5,360.1" fill="url(#gLh)" />
<polygon points="288.5,333.5 293.5,359.3 291.5,360.1" fill="#fff" opacity="0.07"/>
<polygon points="288.5,333.5 295.5,358.6 293.5,359.3" fill="#902000" opacity="0.22"/>
<polygon points="368.6,293.1 384.4,358.7 379.0,360.2" fill="url(#gLh)" />
<polygon points="368.6,293.1 381.7,359.4 379.0,360.2" fill="#fff" opacity="0.07"/>
<polygon points="368.6,293.1 384.4,358.7 381.7,359.4" fill="#902000" opacity="0.22"/>
<polygon points="336.0,328.9 344.5,359.0 339.6,360.5" fill="url(#gLh)" />
<polygon points="336.0,328.9 342.1,359.7 339.6,360.5" fill="#fff" opacity="0.07"/>
<polygon points="336.0,328.9 344.5,359.0 342.1,359.7" fill="#902000" opacity="0.22"/>
<polygon points="336.5,323.0 347.6,359.9 340.1,361.4" fill="url(#gLh)" />
<polygon points="336.5,323.0 343.8,360.6 340.1,361.4" fill="#fff" opacity="0.07"/>
<polygon points="336.5,323.0 347.6,359.9 343.8,360.6" fill="#902000" opacity="0.22"/>
<polygon points="362.5,322.9 372.2,360.6 367.9,362.1" fill="url(#gLh)" />
<polygon points="362.5,322.9 370.0,361.3 367.9,362.1" fill="#fff" opacity="0.07"/>
<polygon points="362.5,322.9 372.2,360.6 370.0,361.3" fill="#902000" opacity="0.22"/>
<polygon points="374.9,286.4 392.4,361.2 387.3,362.7" fill="url(#gLh)" />
<polygon points="374.9,286.4 389.9,361.9 387.3,362.7" fill="#fff" opacity="0.07"/>
<polygon points="374.9,286.4 392.4,361.2 389.9,361.9" fill="#902000" opacity="0.22"/>
<polygon points="364.4,333.4 372.7,362.0 367.6,363.5" fill="url(#gLh)" />
<polygon points="364.4,333.4 370.1,362.7 367.6,363.5" fill="#fff" opacity="0.07"/>
<polygon points="364.4,333.4 372.7,362.0 370.1,362.7" fill="#902000" opacity="0.22"/>
<polygon points="330.7,322.1 341.1,362.4 336.5,363.9" fill="url(#gLh)" />
<polygon points="330.7,322.1 338.8,363.1 336.5,363.9" fill="#fff" opacity="0.07"/>
<polygon points="330.7,322.1 341.1,362.4 338.8,363.1" fill="#902000" opacity="0.22"/>
<polygon points="427.4,328.0 436.4,362.4 432.2,363.9" fill="url(#gLh)" />
<polygon points="427.4,328.0 434.3,363.1 432.2,363.9" fill="#fff" opacity="0.07"/>
<polygon points="427.4,328.0 436.4,362.4 434.3,363.1" fill="#902000" opacity="0.22"/>
<polygon points="359.7,288.7 377.8,363.1 371.4,364.6" fill="url(#gLh)" />
<polygon points="359.7,288.7 374.6,363.8 371.4,364.6" fill="#fff" opacity="0.07"/>
<polygon points="359.7,288.7 377.8,363.1 374.6,363.8" fill="#902000" opacity="0.22"/>
<polygon points="283.7,347.2 290.9,365.4 283.8,366.9" fill="url(#gLh)" />
<polygon points="283.7,347.2 287.4,366.1 283.8,366.9" fill="#fff" opacity="0.07"/>
<polygon points="283.7,347.2 290.9,365.4 287.4,366.1" fill="#902000" opacity="0.22"/>
<polygon points="266.2,329.9 275.8,365.4 270.8,366.9" fill="url(#gLh)" />
<polygon points="266.2,329.9 273.3,366.1 270.8,366.9" fill="#fff" opacity="0.07"/>
<polygon points="266.2,329.9 275.8,365.4 273.3,366.1" fill="#902000" opacity="0.22"/>
<polygon points="282.6,331.0 292.0,366.1 287.3,367.6" fill="url(#gLh)" />
<polygon points="282.6,331.0 289.6,366.8 287.3,367.6" fill="#fff" opacity="0.07"/>
<polygon points="282.6,331.0 292.0,366.1 289.6,366.8" fill="#902000" opacity="0.22"/>
<polygon points="308.7,306.7 324.2,366.1 317.1,367.6" fill="url(#gLh)" />
<polygon points="308.7,306.7 320.6,366.8 317.1,367.6" fill="#fff" opacity="0.07"/>
<polygon points="308.7,306.7 324.2,366.1 320.6,366.8" fill="#902000" opacity="0.22"/>
<polygon points="419.1,297.9 435.9,366.7 429.8,368.2" fill="url(#gLh)" />
<polygon points="419.1,297.9 432.8,367.4 429.8,368.2" fill="#fff" opacity="0.07"/>
<polygon points="419.1,297.9 435.9,366.7 432.8,367.4" fill="#902000" opacity="0.22"/>
<polygon points="271.9,324.3 282.5,366.9 278.4,368.4" fill="url(#gLh)" />
<polygon points="271.9,324.3 280.4,367.6 278.4,368.4" fill="#fff" opacity="0.07"/>
<polygon points="271.9,324.3 282.5,366.9 280.4,367.6" fill="#902000" opacity="0.22"/>
<polygon points="311.0,324.7 322.6,367.3 316.5,368.8" fill="url(#gLh)" />
<polygon points="311.0,324.7 319.5,368.0 316.5,368.8" fill="#fff" opacity="0.07"/>
<polygon points="311.0,324.7 322.6,367.3 319.5,368.0" fill="#902000" opacity="0.22"/>
<polygon points="346.9,315.0 360.1,368.3 355.1,369.8" fill="url(#gLh)" />
<polygon points="346.9,315.0 357.6,369.0 355.1,369.8" fill="#fff" opacity="0.07"/>
<polygon points="346.9,315.0 360.1,368.3 357.6,369.0" fill="#902000" opacity="0.22"/>
<polygon points="333.9,306.2 349.6,368.8 343.1,370.3" fill="url(#gLh)" />
<polygon points="333.9,306.2 346.4,369.5 343.1,370.3" fill="#fff" opacity="0.07"/>
<polygon points="333.9,306.2 349.6,368.8 346.4,369.5" fill="#902000" opacity="0.22"/>
<polygon points="275.5,324.1 287.9,368.9 281.0,370.4" fill="url(#gLh)" />
<polygon points="275.5,324.1 284.5,369.6 281.0,370.4" fill="#fff" opacity="0.07"/>
<polygon points="275.5,324.1 287.9,368.9 284.5,369.6" fill="#902000" opacity="0.22"/>
<polygon points="285.7,325.7 297.3,369.0 291.4,370.5" fill="url(#gLh)" />
<polygon points="285.7,325.7 294.4,369.7 291.4,370.5" fill="#fff" opacity="0.07"/>
<polygon points="285.7,325.7 297.3,369.0 294.4,369.7" fill="#902000" opacity="0.22"/>
<polygon points="353.8,337.4 362.5,369.5 358.0,371.0" fill="url(#gLh)" />
<polygon points="353.8,337.4 360.3,370.2 358.0,371.0" fill="#fff" opacity="0.07"/>
<polygon points="353.8,337.4 362.5,369.5 360.3,370.2" fill="#902000" opacity="0.22"/>
<polygon points="322.1,307.5 338.2,370.6 331.2,372.1" fill="url(#gLh)" />
<polygon points="322.1,307.5 334.7,371.3 331.2,372.1" fill="#fff" opacity="0.07"/>
<polygon points="322.1,307.5 338.2,370.6 334.7,371.3" fill="#902000" opacity="0.22"/>
<polygon points="346.7,308.0 362.9,370.8 355.6,372.3" fill="url(#gLh)" />
<polygon points="346.7,308.0 359.2,371.5 355.6,372.3" fill="#fff" opacity="0.07"/>
<polygon points="346.7,308.0 362.9,370.8 359.2,371.5" fill="#902000" opacity="0.22"/>
<polygon points="320.2,310.5 335.3,370.8 329.3,372.3" fill="url(#gLh)" />
<polygon points="320.2,310.5 332.3,371.5 329.3,372.3" fill="#fff" opacity="0.07"/>
<polygon points="320.2,310.5 335.3,370.8 332.3,371.5" fill="#902000" opacity="0.22"/>
<polygon points="322.7,308.6 338.0,371.2 332.4,372.7" fill="url(#gLh)" />
<polygon points="322.7,308.6 335.2,371.9 332.4,372.7" fill="#fff" opacity="0.07"/>
<polygon points="322.7,308.6 338.0,371.2 335.2,371.9" fill="#902000" opacity="0.22"/>
<polygon points="401.1,286.1 421.1,371.5 415.3,373.0" fill="url(#gLh)" />
<polygon points="401.1,286.1 418.2,372.2 415.3,373.0" fill="#fff" opacity="0.07"/>
<polygon points="401.1,286.1 421.1,371.5 418.2,372.2" fill="#902000" opacity="0.22"/>
<polygon points="292.2,340.3 301.1,371.6 295.8,373.1" fill="url(#gLh)" />
<polygon points="292.2,340.3 298.5,372.3 295.8,373.1" fill="#fff" opacity="0.07"/>
<polygon points="292.2,340.3 301.1,371.6 298.5,372.3" fill="#902000" opacity="0.22"/>
<polygon points="331.4,347.3 339.7,372.4 333.1,373.9" fill="url(#gLh)" />
<polygon points="331.4,347.3 336.4,373.1 333.1,373.9" fill="#fff" opacity="0.07"/>
<polygon points="331.4,347.3 339.7,372.4 336.4,373.1" fill="#902000" opacity="0.22"/>
<polygon points="283.0,318.7 297.5,372.6 290.1,374.1" fill="url(#gLh)" />
<polygon points="283.0,318.7 293.8,373.3 290.1,374.1" fill="#fff" opacity="0.07"/>
<polygon points="283.0,318.7 297.5,372.6 293.8,373.3" fill="#902000" opacity="0.22"/>
<polygon points="382.4,338.2 393.3,374.1 386.0,375.6" fill="url(#gLh)" />
<polygon points="382.4,338.2 389.6,374.8 386.0,375.6" fill="#fff" opacity="0.07"/>
<polygon points="382.4,338.2 393.3,374.1 389.6,374.8" fill="#902000" opacity="0.22"/>
<polygon points="269.6,330.6 281.4,375.5 275.7,377.0" fill="url(#gLh)" />
<polygon points="269.6,330.6 278.5,376.2 275.7,377.0" fill="#fff" opacity="0.07"/>
<polygon points="269.6,330.6 281.4,375.5 278.5,376.2" fill="#902000" opacity="0.22"/>
<polygon points="370.5,325.2 384.4,376.1 377.0,377.6" fill="url(#gLh)" />
<polygon points="370.5,325.2 380.7,376.8 377.0,377.6" fill="#fff" opacity="0.07"/>
<polygon points="370.5,325.2 384.4,376.1 380.7,376.8" fill="#902000" opacity="0.22"/>
<polygon points="321.6,338.9 332.9,377.1 325.6,378.6" fill="url(#gLh)" />
<polygon points="321.6,338.9 329.3,377.8 325.6,378.6" fill="#fff" opacity="0.07"/>
<polygon points="321.6,338.9 332.9,377.1 329.3,377.8" fill="#902000" opacity="0.22"/>
<polygon points="285.2,356.9 291.6,377.2 286.8,378.7" fill="url(#gLh)" />
<polygon points="285.2,356.9 289.2,377.9 286.8,378.7" fill="#fff" opacity="0.07"/>
<polygon points="285.2,356.9 291.6,377.2 289.2,377.9" fill="#902000" opacity="0.22"/>
<polygon points="377.6,351.8 385.9,377.6 379.7,379.1" fill="url(#gLh)" />
<polygon points="377.6,351.8 382.8,378.3 379.7,379.1" fill="#fff" opacity="0.07"/>
<polygon points="377.6,351.8 385.9,377.6 382.8,378.3" fill="#902000" opacity="0.22"/>
<polygon points="265.5,342.0 276.1,378.3 269.4,379.8" fill="url(#gLh)" />
<polygon points="265.5,342.0 272.7,379.0 269.4,379.8" fill="#fff" opacity="0.07"/>
<polygon points="265.5,342.0 276.1,378.3 272.7,379.0" fill="#902000" opacity="0.22"/>
<polygon points="295.1,336.8 306.3,380.1 301.2,381.6" fill="url(#gLh)" />
<polygon points="295.1,336.8 303.7,380.8 301.2,381.6" fill="#fff" opacity="0.07"/>
<polygon points="295.1,336.8 306.3,380.1 303.7,380.8" fill="#902000" opacity="0.22"/>
<polygon points="333.6,342.6 343.8,382.9 339.5,384.4" fill="url(#gLh)" />
<polygon points="333.6,342.6 341.7,383.6 339.5,384.4" fill="#fff" opacity="0.07"/>
<polygon points="333.6,342.6 343.8,382.9 341.7,383.6" fill="#902000" opacity="0.22"/>
<polygon points="269.0,359.6 277.1,385.0 271.0,386.5" fill="url(#gLh)" />
<polygon points="269.0,359.6 274.0,385.7 271.0,386.5" fill="#fff" opacity="0.07"/>
<polygon points="269.0,359.6 277.1,385.0 274.0,385.7" fill="#902000" opacity="0.22"/>
<polygon points="262.8,342.7 275.0,385.4 267.8,386.9" fill="url(#gLh)" />
<polygon points="262.8,342.7 271.4,386.1 267.8,386.9" fill="#fff" opacity="0.07"/>
<polygon points="262.8,342.7 275.0,385.4 271.4,386.1" fill="#902000" opacity="0.22"/>
<polygon points="308.3,356.7 317.8,385.6 310.3,387.1" fill="url(#gLh)" />
<polygon points="308.3,356.7 314.1,386.3 310.3,387.1" fill="#fff" opacity="0.07"/>
<polygon points="308.3,356.7 317.8,385.6 314.1,386.3" fill="#902000" opacity="0.22"/>
<polygon points="263.5,355.6 273.4,386.6 266.1,388.1" fill="url(#gLh)" />
<polygon points="263.5,355.6 269.7,387.3 266.1,388.1" fill="#fff" opacity="0.07"/>
<polygon points="263.5,355.6 273.4,386.6 269.7,387.3" fill="#902000" opacity="0.22"/>
<polygon points="306.7,335.8 319.4,388.3 315.0,389.8" fill="url(#gLh)" />
<polygon points="306.7,335.8 317.2,389.0 315.0,389.8" fill="#fff" opacity="0.07"/>
<polygon points="306.7,335.8 319.4,388.3 317.2,389.0" fill="#902000" opacity="0.22"/>
<polygon points="277.5,371.1 283.4,389.1 278.7,390.6" fill="url(#gLh)" />
<polygon points="277.5,371.1 281.0,389.8 278.7,390.6" fill="#fff" opacity="0.07"/>
<polygon points="277.5,371.1 283.4,389.1 281.0,389.8" fill="#902000" opacity="0.22"/>
<polygon points="261.9,337.6 275.8,389.7 268.7,391.2" fill="url(#gLh)" />
<polygon points="261.9,337.6 272.3,390.4 268.7,391.2" fill="#fff" opacity="0.07"/>
<polygon points="261.9,337.6 275.8,389.7 272.3,390.4" fill="#902000" opacity="0.22"/>
<polygon points="257.9,358.3 267.7,392.0 261.7,393.5" fill="url(#gLh)" />
<polygon points="257.9,358.3 264.7,392.7 261.7,393.5" fill="#fff" opacity="0.07"/>
<polygon points="257.9,358.3 267.7,392.0 264.7,392.7" fill="#902000" opacity="0.22"/>
<polygon points="260.0,362.6 269.5,394.2 263.3,395.7" fill="url(#gLh)" />
<polygon points="260.0,362.6 266.4,394.9 263.3,395.7" fill="#fff" opacity="0.07"/>
<polygon points="260.0,362.6 269.5,394.2 266.4,394.9" fill="#902000" opacity="0.22"/>
<polygon points="256.8,363.2 265.7,395.5 260.9,397.0" fill="url(#gLh)" />
<polygon points="256.8,363.2 263.3,396.2 260.9,397.0" fill="#fff" opacity="0.07"/>
<polygon points="256.8,363.2 265.7,395.5 263.3,396.2" fill="#902000" opacity="0.22"/>
<polygon points="265.8,356.1 276.2,397.8 272.1,399.3" fill="url(#gLh)" />
<polygon points="265.8,356.1 274.1,398.5 272.1,399.3" fill="#fff" opacity="0.07"/>
<polygon points="265.8,356.1 276.2,397.8 274.1,398.5" fill="#902000" opacity="0.22"/>
<polygon points="258.2,363.0 267.9,398.8 262.8,400.3" fill="url(#gLh)" />
<polygon points="258.2,363.0 265.4,399.5 262.8,400.3" fill="#fff" opacity="0.07"/>
<polygon points="258.2,363.0 267.9,398.8 265.4,399.5" fill="#902000" opacity="0.22"/>
<polygon points="251.5,356.8 262.7,401.1 258.0,402.6" fill="url(#gLh)" />
<polygon points="251.5,356.8 260.4,401.8 258.0,402.6" fill="#fff" opacity="0.07"/>
<polygon points="251.5,356.8 262.7,401.1 260.4,401.8" fill="#902000" opacity="0.22"/>
<polygon points="265.0,362.5 275.8,405.1 271.3,406.6" fill="url(#gLh)" />
<polygon points="265.0,362.5 273.5,405.8 271.3,406.6" fill="#fff" opacity="0.07"/>
<polygon points="265.0,362.5 275.8,405.1 273.5,405.8" fill="#902000" opacity="0.22"/>
<polygon points="257.6,382.7 264.6,406.6 260.2,408.1" fill="url(#gLh)" />
<polygon points="257.6,382.7 262.4,407.3 260.2,408.1" fill="#fff" opacity="0.07"/>
<polygon points="257.6,382.7 264.6,406.6 262.4,407.3" fill="#902000" opacity="0.22"/>
<polygon points="260.1,387.1 268.1,411.3 261.7,412.8" fill="url(#gLh)" />
<polygon points="260.1,387.1 264.9,412.0 261.7,412.8" fill="#fff" opacity="0.07"/>
<polygon points="260.1,387.1 268.1,411.3 264.9,412.0" fill="#902000" opacity="0.22"/>
<polygon points="261.6,354.8 268.0,372.0 262.0,373.5" fill="url(#gLh)" />
<polygon points="261.6,354.8 265.0,372.7 262.0,373.5" fill="#fff" opacity="0.07"/>
<polygon points="261.6,354.8 268.0,372.0 265.0,372.7" fill="#902000" opacity="0.22"/>
<polygon points="272.4,330.0 283.8,372.0 277.8,373.5" fill="url(#gLh)" />
<polygon points="272.4,330.0 280.8,372.7 277.8,373.5" fill="#fff" opacity="0.07"/>
<polygon points="272.4,330.0 283.8,372.0 280.8,372.7" fill="#902000" opacity="0.22"/>
<polygon points="283.5,299.0 300.8,368.0 293.8,369.5" fill="url(#gLh)" />
<polygon points="283.5,299.0 297.3,368.7 293.8,369.5" fill="#fff" opacity="0.07"/>
<polygon points="283.5,299.0 300.8,368.0 297.3,368.7" fill="#902000" opacity="0.22"/>
<polygon points="297.0,318.0 308.4,360.0 302.4,361.5" fill="url(#gLh)" />
<polygon points="297.0,318.0 305.4,360.7 302.4,361.5" fill="#fff" opacity="0.07"/>
<polygon points="297.0,318.0 308.4,360.0 305.4,360.7" fill="#902000" opacity="0.22"/>
<polygon points="313.0,308.0 326.8,362.0 320.8,363.5" fill="url(#gLh)" />
<polygon points="313.0,308.0 323.8,362.7 320.8,363.5" fill="#fff" opacity="0.07"/>
<polygon points="313.0,308.0 326.8,362.0 323.8,362.7" fill="#902000" opacity="0.22"/>
<polygon points="326.0,257.8 346.9,345.0 339.9,346.5" fill="url(#gLh)" />
<polygon points="326.0,257.8 343.4,345.7 339.9,346.5" fill="#fff" opacity="0.07"/>
<polygon points="326.0,257.8 346.9,345.0 343.4,345.7" fill="#902000" opacity="0.22"/>
<polygon points="339.0,285.0 355.0,350.0 349.0,351.5" fill="url(#gLh)" />
<polygon points="339.0,285.0 352.0,350.7 349.0,351.5" fill="#fff" opacity="0.07"/>
<polygon points="339.0,285.0 355.0,350.0 352.0,350.7" fill="#902000" opacity="0.22"/>
<polygon points="351.6,235.0 375.1,335.0 368.1,336.5" fill="url(#gLh)" />
<polygon points="351.6,235.0 371.6,335.7 368.1,336.5" fill="#fff" opacity="0.07"/>
<polygon points="351.6,235.0 375.1,335.0 371.6,335.7" fill="#902000" opacity="0.22"/>
<polygon points="360.0,262.0 376.6,330.0 370.6,331.5" fill="url(#gLh)" />
<polygon points="360.0,262.0 373.6,330.7 370.6,331.5" fill="#fff" opacity="0.07"/>
<polygon points="360.0,262.0 376.6,330.0 373.6,330.7" fill="#902000" opacity="0.22"/>
<polygon points="368.0,239.0 389.7,330.0 382.7,331.5" fill="url(#gLh)" />
<polygon points="368.0,239.0 386.2,330.7 382.7,331.5" fill="#fff" opacity="0.07"/>
<polygon points="368.0,239.0 389.7,330.0 386.2,330.7" fill="#902000" opacity="0.22"/>
<polygon points="379.0,258.0 396.4,330.0 390.4,331.5" fill="url(#gLh)" />
<polygon points="379.0,258.0 393.4,330.7 390.4,331.5" fill="#fff" opacity="0.07"/>
<polygon points="379.0,258.0 396.4,330.0 393.4,330.7" fill="#902000" opacity="0.22"/>
<polygon points="390.0,254.0 407.2,325.0 401.2,326.5" fill="url(#gLh)" />
<polygon points="390.0,254.0 404.2,325.7 401.2,326.5" fill="#fff" opacity="0.07"/>
<polygon points="390.0,254.0 407.2,325.0 404.2,325.7" fill="#902000" opacity="0.22"/>
<polygon points="396.0,241.0 416.3,325.0 409.3,326.5" fill="url(#gLh)" />
<polygon points="396.0,241.0 412.8,325.7 409.3,326.5" fill="#fff" opacity="0.07"/>
<polygon points="396.0,241.0 416.3,325.0 412.8,325.7" fill="#902000" opacity="0.22"/>
<polygon points="404.0,246.0 421.8,320.0 415.8,321.5" fill="url(#gLh)" />
<polygon points="404.0,246.0 418.8,320.7 415.8,321.5" fill="#fff" opacity="0.07"/>
<polygon points="404.0,246.0 421.8,320.0 418.8,320.7" fill="#902000" opacity="0.22"/>
<polygon points="409.4,220.6 432.8,320.0 425.8,321.5" fill="url(#gLh)" />
<polygon points="409.4,220.6 429.3,320.7 425.8,321.5" fill="#fff" opacity="0.07"/>
<polygon points="409.4,220.6 432.8,320.0 429.3,320.7" fill="#902000" opacity="0.22"/>
<polygon points="417.6,241.0 436.4,320.0 430.4,321.5" fill="url(#gLh)" />
<polygon points="417.6,241.0 433.4,320.7 430.4,321.5" fill="#fff" opacity="0.07"/>
<polygon points="417.6,241.0 436.4,320.0 433.4,320.7" fill="#902000" opacity="0.22"/>
<polygon points="423.0,248.0 440.4,320.0 434.4,321.5" fill="url(#gLh)" />
<polygon points="423.0,248.0 437.4,320.7 434.4,321.5" fill="#fff" opacity="0.07"/>
<polygon points="423.0,248.0 440.4,320.0 437.4,320.7" fill="#902000" opacity="0.22"/>
<polygon points="428.0,236.0 448.3,320.0 441.3,321.5" fill="url(#gLh)" />
<polygon points="428.0,236.0 444.8,320.7 441.3,321.5" fill="#fff" opacity="0.07"/>
<polygon points="428.0,236.0 448.3,320.0 444.8,320.7" fill="#902000" opacity="0.22"/>
<polygon points="432.4,188.0 458.8,300.0 450.8,301.5" fill="url(#gLh)" />
<polygon points="432.4,188.0 454.8,300.7 450.8,301.5" fill="#fff" opacity="0.07"/>
<polygon points="432.4,188.0 458.8,300.0 454.8,300.7" fill="#902000" opacity="0.22"/>
<polygon points="173.3,416.7 244.3,363.0 262.0,362.0 290.0,320.0 306.0,311.4 329.0,301.0 339.0,289.0 352.0,281.0 385.0,276.0 400.0,266.0 432.0,250.0 445.0,250.0 445.0,444.8 437.8,444.4 400.0,446.0 331.0,444.0 292.0,441.0 284.0,443.0 275.7,448.6 245.7,444.0 224.0,433.6" fill="url(#mesh)" />
<polygon points="392.0,290.0 432.0,262.0 432.0,445.0 392.0,446.0" fill="url(#gL)" mask="url(#mL)"/>
<polygon points="488.0,33.0 493.0,60.0 498.0,120.0 499.0,220.0 500.0,319.0 504.0,319.0 512.6,315.5 526.6,303.0 547.5,300.0 575.5,287.5 588.0,278.0 600.6,266.6 580.0,268.5 561.5,268.0 547.5,256.0 533.6,228.0 523.0,190.0 517.0,160.0 511.7,132.0 504.0,84.0 496.5,51.0 492.0,40.0" fill="url(#gLr)" />
<polygon points="436.0,130.0 438.0,116.0 441.0,100.0 445.0,62.7 449.0,50.0 452.6,40.6 458.0,48.0 462.0,54.6 465.5,47.0 468.6,41.0 475.0,50.0 483.0,65.5 485.5,48.0 488.0,33.0 495.0,60.0 502.0,120.0 503.0,220.0 504.0,319.0 502.0,340.0 498.0,372.0 490.0,404.0 480.0,427.0 466.7,448.0 437.8,444.4 431.0,420.0 427.0,380.0 428.0,330.0 430.6,266.6 429.0,225.0 432.4,188.0 436.0,196.0 440.0,207.0 444.6,217.7 442.5,200.0 441.0,190.0 437.6,165.0" fill="url(#gL)" />
<polyline points="488.0,33.0 495.0,60.0 502.0,120.0 503.0,220.0 504.0,319.0" fill="none" stroke="#604000" stroke-opacity="0.10" stroke-width="1"/>
<polygon points="436.0,130.0 438.0,116.0 441.0,100.0 445.0,62.7 449.0,50.0 452.6,40.6 458.0,48.0 462.0,54.6 465.5,47.0 468.6,41.0 475.0,50.0 483.0,65.5 485.5,48.0 488.0,33.0 495.0,60.0 502.0,120.0 503.0,220.0 504.0,319.0 502.0,340.0 498.0,372.0 490.0,404.0 480.0,427.0 466.7,448.0 437.8,444.4 431.0,420.0 427.0,380.0 428.0,330.0 430.6,266.6 429.0,225.0 432.4,188.0 436.0,196.0 440.0,207.0 444.6,217.7 442.5,200.0 441.0,190.0 437.6,165.0" fill="url(#mesh2)" />
<polygon points="488.0,33.0 493.0,60.0 498.0,120.0 499.0,220.0 500.0,319.0 504.0,319.0 512.6,315.5 526.6,303.0 547.5,300.0 575.5,287.5 588.0,278.0 600.6,266.6 580.0,268.5 561.5,268.0 547.5,256.0 533.6,228.0 523.0,190.0 517.0,160.0 511.7,132.0 504.0,84.0 496.5,51.0 492.0,40.0" fill="url(#mesh2)" />
<g fill="#e4e850" stroke="#5a5a10" stroke-width="0.4">
<circle cx="438.0" cy="116.0" r="1.5"/>
<circle cx="445.0" cy="62.7" r="1.5"/>
<circle cx="452.6" cy="40.6" r="1.5"/>
<circle cx="468.6" cy="41.0" r="1.5"/>
<circle cx="488.0" cy="33.0" r="1.5"/>
<circle cx="432.4" cy="188.0" r="1.5"/>
<circle cx="431.0" cy="170.0" r="1.5"/>
<circle cx="331.0" cy="401.0" r="1.5"/>
<circle cx="397.4" cy="320.9" r="1.5"/>
<circle cx="238.6" cy="394.1" r="1.5"/>
<circle cx="334.8" cy="270.2" r="1.5"/>
<circle cx="283.7" cy="384.8" r="1.5"/>
<circle cx="230.8" cy="377.2" r="1.5"/>
<circle cx="388.7" cy="236.7" r="1.5"/>
<circle cx="266.5" cy="350.2" r="1.5"/>
<circle cx="376.4" cy="289.0" r="1.5"/>
<circle cx="416.5" cy="311.8" r="1.5"/>
<circle cx="405.2" cy="293.5" r="1.5"/>
<circle cx="277.6" cy="438.3" r="1.5"/>
<circle cx="407.5" cy="317.2" r="1.5"/>
<circle cx="298.1" cy="308.0" r="1.5"/>
<circle cx="290.9" cy="287.4" r="1.5"/>
<circle cx="295.4" cy="346.7" r="1.5"/>
<circle cx="312.1" cy="342.1" r="1.5"/>
<circle cx="343.5" cy="282.8" r="1.5"/>
<circle cx="235.9" cy="417.3" r="1.5"/>
<circle cx="233.6" cy="419.8" r="1.5"/>
<circle cx="324.8" cy="290.7" r="1.5"/>
<circle cx="402.4" cy="268.9" r="1.5"/>
<circle cx="392.9" cy="346.6" r="1.5"/>
<circle cx="297.4" cy="375.1" r="1.5"/>
<circle cx="260.5" cy="420.6" r="1.5"/>
<circle cx="373.5" cy="270.0" r="1.5"/>
<circle cx="256.8" cy="382.1" r="1.5"/>
<circle cx="389.2" cy="294.3" r="1.5"/>
<circle cx="320.3" cy="339.3" r="1.5"/>
<circle cx="273.3" cy="312.5" r="1.5"/>
<circle cx="429.8" cy="206.6" r="1.5"/>
<circle cx="318.8" cy="353.5" r="1.5"/>
<circle cx="326.9" cy="415.3" r="1.5"/>
<circle cx="305.0" cy="307.7" r="1.5"/>
<circle cx="240.0" cy="396.2" r="1.5"/>
<circle cx="265.0" cy="418.3" r="1.5"/>
<circle cx="332.1" cy="274.9" r="1.5"/>
<circle cx="268.4" cy="429.2" r="1.5"/>
<circle cx="308.8" cy="440.2" r="1.5"/>
<circle cx="412.5" cy="281.8" r="1.5"/>
<circle cx="347.7" cy="342.1" r="1.5"/>
<circle cx="303.0" cy="321.4" r="1.5"/>
<circle cx="420.9" cy="316.8" r="1.5"/>
<circle cx="314.4" cy="291.7" r="1.5"/>
<circle cx="357.1" cy="387.3" r="1.5"/>
<circle cx="357.9" cy="373.8" r="1.5"/>
<circle cx="337.1" cy="396.1" r="1.5"/>
<circle cx="343.5" cy="316.4" r="1.5"/>
<circle cx="354.8" cy="365.4" r="1.5"/>
<circle cx="398.6" cy="311.3" r="1.5"/>
<circle cx="229.9" cy="401.6" r="1.5"/>
<circle cx="338.3" cy="349.0" r="1.5"/>
<circle cx="334.6" cy="405.2" r="1.5"/>
<circle cx="334.1" cy="396.6" r="1.5"/>
<circle cx="296.8" cy="418.2" r="1.5"/>
<circle cx="340.9" cy="424.4" r="1.5"/>
<circle cx="316.8" cy="268.1" r="1.5"/>
<circle cx="395.6" cy="300.0" r="1.5"/>
<circle cx="346.0" cy="248.5" r="1.5"/>
<circle cx="325.1" cy="391.1" r="1.5"/>
<circle cx="331.1" cy="405.9" r="1.5"/>
<circle cx="346.2" cy="262.0" r="1.5"/>
<circle cx="335.0" cy="315.5" r="1.5"/>
<circle cx="332.2" cy="291.7" r="1.5"/>
<circle cx="280.8" cy="316.1" r="1.5"/>
<circle cx="273.9" cy="320.5" r="1.5"/>
<circle cx="300.3" cy="386.4" r="1.5"/>
<circle cx="282.4" cy="310.1" r="1.5"/>
<circle cx="288.0" cy="284.8" r="1.5"/>
<circle cx="299.6" cy="307.8" r="1.5"/>
<circle cx="257.6" cy="401.3" r="1.5"/>
<circle cx="325.1" cy="435.3" r="1.5"/>
<circle cx="304.7" cy="413.8" r="1.5"/>
<circle cx="299.1" cy="322.5" r="1.5"/>
<circle cx="322.8" cy="435.0" r="1.5"/>
<circle cx="329.0" cy="342.7" r="1.5"/>
<circle cx="219.3" cy="376.4" r="1.5"/>
<circle cx="329.9" cy="309.6" r="1.5"/>
<circle cx="381.5" cy="304.5" r="1.5"/>
<circle cx="280.8" cy="357.2" r="1.5"/>
<circle cx="300.2" cy="434.3" r="1.5"/>
<circle cx="327.2" cy="329.3" r="1.5"/>
<circle cx="314.0" cy="356.0" r="1.5"/>
<circle cx="417.7" cy="282.4" r="1.5"/>
<circle cx="311.6" cy="314.4" r="1.5"/>
<circle cx="307.6" cy="340.2" r="1.5"/>
<circle cx="366.1" cy="268.5" r="1.5"/>
<circle cx="287.4" cy="431.9" r="1.5"/>
<circle cx="283.5" cy="285.1" r="1.5"/>
<circle cx="289.9" cy="388.0" r="1.5"/>
<circle cx="334.2" cy="375.8" r="1.5"/>
<circle cx="262.5" cy="421.7" r="1.5"/>
<circle cx="318.8" cy="343.2" r="1.5"/>
<circle cx="318.3" cy="362.2" r="1.5"/>
<circle cx="350.4" cy="266.9" r="1.5"/>
<circle cx="309.0" cy="428.4" r="1.5"/>
<circle cx="320.4" cy="295.1" r="1.5"/>
<circle cx="305.7" cy="380.4" r="1.5"/>
<circle cx="332.4" cy="359.3" r="1.5"/>
<circle cx="300.9" cy="356.0" r="1.5"/>
<circle cx="276.3" cy="363.4" r="1.5"/>
<circle cx="250.5" cy="427.7" r="1.5"/>
<circle cx="306.3" cy="339.6" r="1.5"/>
<circle cx="387.0" cy="276.9" r="1.5"/>
<circle cx="320.8" cy="366.6" r="1.5"/>
<circle cx="269.2" cy="401.5" r="1.5"/>
<circle cx="251.2" cy="371.8" r="1.5"/>
<circle cx="359.0" cy="246.0" r="1.5"/>
<circle cx="414.1" cy="322.1" r="1.5"/>
<circle cx="245.6" cy="427.6" r="1.5"/>
<circle cx="334.4" cy="429.3" r="1.5"/>
<circle cx="265.7" cy="373.8" r="1.5"/>
<circle cx="268.5" cy="404.5" r="1.5"/>
<circle cx="270.5" cy="339.9" r="1.5"/>
<circle cx="300.2" cy="286.5" r="1.5"/>
<circle cx="349.9" cy="260.0" r="1.5"/>
<circle cx="292.6" cy="386.1" r="1.5"/>
<circle cx="396.0" cy="235.8" r="1.5"/>
<circle cx="268.8" cy="406.6" r="1.5"/>
<circle cx="386.9" cy="318.2" r="1.5"/>
<circle cx="286.0" cy="383.8" r="1.5"/>
<circle cx="351.4" cy="267.0" r="1.5"/>
<circle cx="299.3" cy="281.5" r="1.5"/>
<circle cx="335.8" cy="294.0" r="1.5"/>
<circle cx="256.8" cy="362.0" r="1.5"/>
<circle cx="282.5" cy="426.9" r="1.5"/>
<circle cx="293.6" cy="284.0" r="1.5"/>
<circle cx="247.0" cy="364.6" r="1.5"/>
<circle cx="339.8" cy="244.6" r="1.5"/>
<circle cx="337.3" cy="261.1" r="1.5"/>
<circle cx="297.3" cy="335.9" r="1.5"/>
<circle cx="329.7" cy="341.8" r="1.5"/>
<circle cx="266.1" cy="428.0" r="1.5"/>
<circle cx="361.5" cy="324.7" r="1.5"/>
<circle cx="316.7" cy="381.3" r="1.5"/>
<circle cx="349.5" cy="276.2" r="1.5"/>
<circle cx="277.2" cy="331.8" r="1.5"/>
<circle cx="312.1" cy="284.8" r="1.5"/>
<circle cx="381.1" cy="330.9" r="1.5"/>
<circle cx="310.3" cy="298.1" r="1.5"/>
<circle cx="299.6" cy="355.6" r="1.5"/>
<circle cx="268.9" cy="366.5" r="1.5"/>
<circle cx="270.6" cy="368.3" r="1.5"/>
<circle cx="312.3" cy="301.2" r="1.5"/>
<circle cx="299.0" cy="431.1" r="1.5"/>
<circle cx="338.6" cy="349.9" r="1.5"/>
<circle cx="262.5" cy="413.0" r="1.5"/>
<circle cx="338.7" cy="276.3" r="1.5"/>
<circle cx="236.8" cy="347.6" r="1.5"/>
<circle cx="411.2" cy="275.7" r="1.5"/>
<circle cx="310.6" cy="337.9" r="1.5"/>
<circle cx="345.7" cy="297.1" r="1.5"/>
<circle cx="338.4" cy="422.3" r="1.5"/>
<circle cx="306.1" cy="303.9" r="1.5"/>
<circle cx="356.6" cy="253.4" r="1.5"/>
<circle cx="421.9" cy="282.8" r="1.5"/>
<circle cx="257.4" cy="356.9" r="1.5"/>
<circle cx="313.4" cy="293.3" r="1.5"/>
<circle cx="246.1" cy="347.7" r="1.5"/>
<circle cx="303.4" cy="306.3" r="1.5"/>
<circle cx="410.1" cy="262.3" r="1.5"/>
<circle cx="302.8" cy="295.6" r="1.5"/>
<circle cx="260.4" cy="401.1" r="1.5"/>
<circle cx="327.5" cy="420.0" r="1.5"/>
<circle cx="233.2" cy="400.7" r="1.5"/>
<circle cx="323.8" cy="347.9" r="1.5"/>
<circle cx="347.0" cy="406.8" r="1.5"/>
<circle cx="308.3" cy="415.6" r="1.5"/>
<circle cx="262.0" cy="326.0" r="1.5"/>
<circle cx="364.6" cy="270.8" r="1.5"/>
<circle cx="283.4" cy="328.3" r="1.5"/>
<circle cx="324.6" cy="270.0" r="1.5"/>
<circle cx="245.3" cy="369.1" r="1.5"/>
<circle cx="299.5" cy="316.3" r="1.5"/>
<circle cx="292.5" cy="406.3" r="1.5"/>
<circle cx="382.8" cy="332.9" r="1.5"/>
<circle cx="324.3" cy="357.6" r="1.5"/>
<circle cx="335.8" cy="427.8" r="1.5"/>
<circle cx="343.0" cy="314.9" r="1.5"/>
<circle cx="300.5" cy="302.6" r="1.5"/>
<circle cx="285.9" cy="399.6" r="1.5"/>
<circle cx="249.9" cy="420.9" r="1.5"/>
<circle cx="237.9" cy="348.5" r="1.5"/>
<circle cx="373.5" cy="376.5" r="1.5"/>
<circle cx="281.5" cy="373.1" r="1.5"/>
<circle cx="294.5" cy="307.3" r="1.5"/>
<circle cx="366.2" cy="252.6" r="1.5"/>
<circle cx="272.2" cy="413.7" r="1.5"/>
<circle cx="396.0" cy="251.0" r="1.5"/>
<circle cx="388.3" cy="307.2" r="1.5"/>
<circle cx="307.4" cy="407.3" r="1.5"/>
<circle cx="318.7" cy="436.6" r="1.5"/>
<circle cx="259.5" cy="426.7" r="1.5"/>
<circle cx="246.6" cy="334.8" r="1.5"/>
<circle cx="312.3" cy="423.5" r="1.5"/>
<circle cx="279.2" cy="357.4" r="1.5"/>
<circle cx="322.6" cy="345.3" r="1.5"/>
<circle cx="283.0" cy="361.9" r="1.5"/>
<circle cx="416.5" cy="309.3" r="1.5"/>
<circle cx="330.3" cy="261.1" r="1.5"/>
<circle cx="313.3" cy="299.2" r="1.5"/>
<circle cx="345.7" cy="406.7" r="1.5"/>
<circle cx="360.0" cy="311.1" r="1.5"/>
<circle cx="374.3" cy="337.7" r="1.5"/>
<circle cx="299.8" cy="304.1" r="1.5"/>
<circle cx="325.9" cy="318.3" r="1.5"/>
<circle cx="292.9" cy="310.0" r="1.5"/>
<circle cx="300.6" cy="367.7" r="1.5"/>
<circle cx="302.4" cy="437.4" r="1.5"/>
<circle cx="391.0" cy="326.1" r="1.5"/>
<circle cx="319.2" cy="411.4" r="1.5"/>
<circle cx="326.8" cy="393.1" r="1.5"/>
<circle cx="288.7" cy="302.7" r="1.5"/>
<circle cx="325.0" cy="405.3" r="1.5"/>
<circle cx="291.6" cy="429.8" r="1.5"/>
<circle cx="345.4" cy="283.8" r="1.5"/>
<circle cx="338.0" cy="425.3" r="1.5"/>
<circle cx="340.8" cy="403.6" r="1.5"/>
<circle cx="329.3" cy="320.6" r="1.5"/>
<circle cx="382.8" cy="289.4" r="1.5"/>
<circle cx="320.1" cy="284.4" r="1.5"/>
<circle cx="273.4" cy="406.9" r="1.5"/>
<circle cx="386.8" cy="324.1" r="1.5"/>
<circle cx="260.6" cy="415.0" r="1.5"/>
<circle cx="345.3" cy="328.9" r="1.5"/>
<circle cx="278.8" cy="361.4" r="1.5"/>
<circle cx="330.9" cy="268.4" r="1.5"/>
<circle cx="354.2" cy="253.0" r="1.5"/>
<circle cx="366.9" cy="376.7" r="1.5"/>
<circle cx="304.5" cy="359.7" r="1.5"/>
<circle cx="385.2" cy="294.6" r="1.5"/>
<circle cx="328.5" cy="436.7" r="1.5"/>
<circle cx="239.1" cy="364.6" r="1.5"/>
<circle cx="328.2" cy="317.4" r="1.5"/>
<circle cx="327.0" cy="388.0" r="1.5"/>
<circle cx="347.6" cy="280.7" r="1.5"/>
<circle cx="367.8" cy="385.3" r="1.5"/>
<circle cx="371.3" cy="343.2" r="1.5"/>
<circle cx="281.2" cy="406.0" r="1.5"/>
<circle cx="311.6" cy="311.3" r="1.5"/>
<circle cx="269.7" cy="320.8" r="1.5"/>
<circle cx="259.8" cy="421.4" r="1.5"/>
<circle cx="363.9" cy="370.8" r="1.5"/>
<circle cx="391.1" cy="351.1" r="1.5"/>
<circle cx="406.8" cy="255.0" r="1.5"/>
<circle cx="277.8" cy="370.8" r="1.5"/>
<circle cx="339.7" cy="267.5" r="1.5"/>
<circle cx="320.1" cy="276.1" r="1.5"/>
<circle cx="299.6" cy="396.3" r="1.5"/>
<circle cx="405.7" cy="227.7" r="1.5"/>
</g>
<line x1="64.8" y1="164.4" x2="60.9" y2="165.4" stroke="#ddd" stroke-width="1" />
<text transform="translate(60.0 169.0) rotate(-15.0)" font-size="8" fill="#f2f2dc" text-anchor="end" >0.0800</text>
<line x1="82.9" y1="208.9" x2="79.0" y2="209.9" stroke="#ddd" stroke-width="1" />
<text transform="translate(78.1 213.5) rotate(-15.0)" font-size="8" fill="#f2f2dc" text-anchor="end" >0.0700</text>
<line x1="100.3" y1="249.5" x2="96.4" y2="250.5" stroke="#ddd" stroke-width="1" />
<text transform="translate(95.5 254.1) rotate(-15.0)" font-size="8" fill="#f2f2dc" text-anchor="end" >0.0600</text>
<line x1="117.1" y1="288.9" x2="113.2" y2="289.9" stroke="#ddd" stroke-width="1" />
<text transform="translate(112.3 293.5) rotate(-15.0)" font-size="8" fill="#f2f2dc" text-anchor="end" >0.0500</text>
<line x1="132.4" y1="325.5" x2="128.5" y2="326.5" stroke="#ddd" stroke-width="1" />
<text transform="translate(127.6 330.1) rotate(-15.0)" font-size="8" fill="#f2f2dc" text-anchor="end" >0.0400</text>
<line x1="146.9" y1="363.6" x2="143.0" y2="364.6" stroke="#ddd" stroke-width="1" />
<text transform="translate(142.1 368.2) rotate(-15.0)" font-size="8" fill="#f2f2dc" text-anchor="end" >0.0300</text>
<line x1="161.0" y1="397.9" x2="157.1" y2="398.9" stroke="#ddd" stroke-width="1" />
<text transform="translate(156.2 402.5) rotate(-15.0)" font-size="8" fill="#f2f2dc" text-anchor="end" >0.0200</text>
<line x1="175.0" y1="431.4" x2="171.1" y2="432.4" stroke="#ddd" stroke-width="1" />
<text transform="translate(170.2 436.0) rotate(-15.0)" font-size="8" fill="#f2f2dc" text-anchor="end" >0.0100</text>
<line x1="191.0" y1="466.0" x2="187.1" y2="467.0" stroke="#ddd" stroke-width="1" />
<text transform="translate(186.2 470.6) rotate(-15.0)" font-size="8" fill="#f2f2dc" text-anchor="end" >0.0000</text>
<text transform="translate(307.5 55.5) rotate(-15.0)" font-size="10.3" fill="#f4f4e4" text-anchor="middle" >Trading surface chart</text>
<text transform="translate(86.0 318.0) rotate(67.4)" font-size="8.7" fill="#e6e28a" text-anchor="middle" >standardDeviation</text>
<text transform="translate(195.0 478.0) rotate(-15.0)" font-size="8" fill="#f2f2dc" text-anchor="middle" >0.0</text>
<text transform="translate(287.0 498.0) rotate(-15.0)" font-size="8" fill="#f2f2dc" text-anchor="middle" >20.0</text>
<text transform="translate(404.0 526.0) rotate(-15.0)" font-size="8" fill="#f2f2dc" text-anchor="middle" >40.0</text>
<text transform="translate(324.0 521.0) rotate(11.0)" font-size="8.7" fill="#e6e28a" text-anchor="middle" >dmi_adxr</text>
<text transform="translate(616.0 332.8) rotate(-15.0)" font-size="8" fill="#f2f2dc" text-anchor="start" >2.00</text>
<text transform="translate(595.7 372.0) rotate(-15.0)" font-size="8" fill="#f2f2dc" text-anchor="start" >1.00</text>
<text transform="translate(567.0 420.2) rotate(-15.0)" font-size="8" fill="#f2f2dc" text-anchor="start" >0.00</text>
<text transform="translate(530.9 479.1) rotate(-15.0)" font-size="8" fill="#f2f2dc" text-anchor="start" >-1.00</text>
<text transform="translate(603.5 411.0) rotate(-62.0)" font-size="8.7" fill="#e6e28a" text-anchor="middle" >skewness</text>
</g>
<rect x="908" y="0" width="242" height="241.5" fill="#f0db4f"/>
<text font-size="180" font-weight="bold" fill="#323330" stroke="#323330" stroke-width="3" stroke-linejoin="miter" transform="translate(940 182.6) scale(0.85 0.993)" x="0 100.5">JS</text>
<rect x="960" y="50" width="30.4" height="33" fill="#f0db4f"/>
</svg></body></html>
